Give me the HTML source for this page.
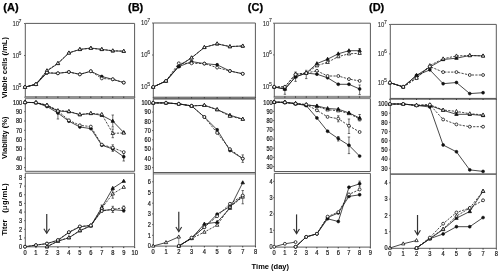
<!DOCTYPE html>
<html><head><meta charset="utf-8"><style>
html,body{margin:0;padding:0;background:#fff;overflow:hidden;}
svg{display:block;will-change:transform;}
text{font-family:"Liberation Sans",sans-serif;}
.t{stroke:#222;stroke-width:0.22px;}
.t2{stroke:#444;stroke-width:0.1px;}
</style></head><body>
<svg width="499" height="271" viewBox="0 0 499 271">
<rect width="499" height="271" fill="#fff"/>
<line x1="25.3" y1="23.4" x2="134.6" y2="23.4" stroke="#5a5a5a" stroke-width="1.0" />
<line x1="25.3" y1="96.6" x2="134.6" y2="96.6" stroke="#5a5a5a" stroke-width="1.0" />
<line x1="25.3" y1="23.4" x2="25.3" y2="96.6" stroke="#5a5a5a" stroke-width="1.0" />
<line x1="134.6" y1="23.4" x2="134.6" y2="96.6" stroke="#5a5a5a" stroke-width="1.0" />
<line x1="24" y1="23.5" x2="25.3" y2="23.5" stroke="#5a5a5a" stroke-width="0.9" />
<text transform="translate(19,25.8) scale(0.87,1)" font-size="6.8" text-anchor="end" font-weight="normal" fill="#222" class="t2">10</text>
<text transform="translate(18.6,22.5) scale(0.87,1)" font-size="6.0" text-anchor="start" font-weight="normal" fill="#222" class="t2">7</text>
<line x1="24" y1="55.5" x2="25.3" y2="55.5" stroke="#5a5a5a" stroke-width="0.9" />
<text transform="translate(19,57.8) scale(0.87,1)" font-size="6.8" text-anchor="end" font-weight="normal" fill="#222" class="t2">10</text>
<text transform="translate(18.6,54.5) scale(0.87,1)" font-size="6.0" text-anchor="start" font-weight="normal" fill="#222" class="t2">6</text>
<line x1="24" y1="87.5" x2="25.3" y2="87.5" stroke="#5a5a5a" stroke-width="0.9" />
<text transform="translate(19,89.8) scale(0.87,1)" font-size="6.8" text-anchor="end" font-weight="normal" fill="#222" class="t2">10</text>
<text transform="translate(18.6,86.5) scale(0.87,1)" font-size="6.0" text-anchor="start" font-weight="normal" fill="#222" class="t2">5</text>
<line x1="25.3" y1="98.6" x2="134.6" y2="98.6" stroke="#5a5a5a" stroke-width="1.0" />
<line x1="25.3" y1="171.3" x2="134.6" y2="171.3" stroke="#5a5a5a" stroke-width="1.0" />
<line x1="25.3" y1="98.6" x2="25.3" y2="171.3" stroke="#5a5a5a" stroke-width="1.0" />
<line x1="134.6" y1="98.6" x2="134.6" y2="171.3" stroke="#5a5a5a" stroke-width="1.0" />
<rect x="25.8" y="96" width="108.3" height="2.9" fill="#929292"/>
<line x1="25" y1="96.6" x2="25" y2="97.9" stroke="#333" stroke-width="1.0" />
<line x1="35.97" y1="96.6" x2="35.97" y2="97.9" stroke="#333" stroke-width="1.0" />
<line x1="46.94" y1="96.6" x2="46.94" y2="97.9" stroke="#333" stroke-width="1.0" />
<line x1="57.91" y1="96.6" x2="57.91" y2="97.9" stroke="#333" stroke-width="1.0" />
<line x1="68.88" y1="96.6" x2="68.88" y2="97.9" stroke="#333" stroke-width="1.0" />
<line x1="79.85" y1="96.6" x2="79.85" y2="97.9" stroke="#333" stroke-width="1.0" />
<line x1="90.82" y1="96.6" x2="90.82" y2="97.9" stroke="#333" stroke-width="1.0" />
<line x1="101.79" y1="96.6" x2="101.79" y2="97.9" stroke="#333" stroke-width="1.0" />
<line x1="112.76" y1="96.6" x2="112.76" y2="97.9" stroke="#333" stroke-width="1.0" />
<line x1="123.73" y1="96.6" x2="123.73" y2="97.9" stroke="#333" stroke-width="1.0" />
<line x1="134.7" y1="96.6" x2="134.7" y2="97.9" stroke="#333" stroke-width="1.0" />
<line x1="24" y1="102.4" x2="25.3" y2="102.4" stroke="#5a5a5a" stroke-width="0.9" />
<text transform="translate(22.2,104.75) scale(0.87,1)" font-size="6.4" text-anchor="end" font-weight="normal" fill="#222" class="t">100</text>
<line x1="24" y1="111.7" x2="25.3" y2="111.7" stroke="#5a5a5a" stroke-width="0.9" />
<text transform="translate(22.2,114.05) scale(0.87,1)" font-size="6.4" text-anchor="end" font-weight="normal" fill="#222" class="t">90</text>
<line x1="24" y1="121" x2="25.3" y2="121" stroke="#5a5a5a" stroke-width="0.9" />
<text transform="translate(22.2,123.35) scale(0.87,1)" font-size="6.4" text-anchor="end" font-weight="normal" fill="#222" class="t">80</text>
<line x1="24" y1="130.3" x2="25.3" y2="130.3" stroke="#5a5a5a" stroke-width="0.9" />
<text transform="translate(22.2,132.65) scale(0.87,1)" font-size="6.4" text-anchor="end" font-weight="normal" fill="#222" class="t">70</text>
<line x1="24" y1="139.6" x2="25.3" y2="139.6" stroke="#5a5a5a" stroke-width="0.9" />
<text transform="translate(22.2,141.95) scale(0.87,1)" font-size="6.4" text-anchor="end" font-weight="normal" fill="#222" class="t">60</text>
<line x1="24" y1="148.9" x2="25.3" y2="148.9" stroke="#5a5a5a" stroke-width="0.9" />
<text transform="translate(22.2,151.25) scale(0.87,1)" font-size="6.4" text-anchor="end" font-weight="normal" fill="#222" class="t">50</text>
<line x1="24" y1="158.2" x2="25.3" y2="158.2" stroke="#5a5a5a" stroke-width="0.9" />
<text transform="translate(22.2,160.55) scale(0.87,1)" font-size="6.4" text-anchor="end" font-weight="normal" fill="#222" class="t">40</text>
<line x1="24" y1="167.5" x2="25.3" y2="167.5" stroke="#5a5a5a" stroke-width="0.9" />
<text transform="translate(22.2,169.85) scale(0.87,1)" font-size="6.4" text-anchor="end" font-weight="normal" fill="#222" class="t">30</text>
<line x1="25.3" y1="173.2" x2="134.6" y2="173.2" stroke="#5a5a5a" stroke-width="1.0" />
<line x1="25.3" y1="246.8" x2="134.6" y2="246.8" stroke="#5a5a5a" stroke-width="1.0" />
<line x1="25.3" y1="173.2" x2="25.3" y2="246.8" stroke="#5a5a5a" stroke-width="1.0" />
<line x1="134.6" y1="173.2" x2="134.6" y2="246.8" stroke="#5a5a5a" stroke-width="1.0" />
<line x1="24" y1="246.6" x2="25.3" y2="246.6" stroke="#5a5a5a" stroke-width="0.9" />
<text transform="translate(22.2,248.95) scale(0.87,1)" font-size="6.4" text-anchor="end" font-weight="normal" fill="#222" class="t">0</text>
<line x1="24" y1="237.96" x2="25.3" y2="237.96" stroke="#5a5a5a" stroke-width="0.9" />
<text transform="translate(22.2,240.31) scale(0.87,1)" font-size="6.4" text-anchor="end" font-weight="normal" fill="#222" class="t">1</text>
<line x1="24" y1="229.32" x2="25.3" y2="229.32" stroke="#5a5a5a" stroke-width="0.9" />
<text transform="translate(22.2,231.67) scale(0.87,1)" font-size="6.4" text-anchor="end" font-weight="normal" fill="#222" class="t">2</text>
<line x1="24" y1="220.68" x2="25.3" y2="220.68" stroke="#5a5a5a" stroke-width="0.9" />
<text transform="translate(22.2,223.03) scale(0.87,1)" font-size="6.4" text-anchor="end" font-weight="normal" fill="#222" class="t">3</text>
<line x1="24" y1="212.04" x2="25.3" y2="212.04" stroke="#5a5a5a" stroke-width="0.9" />
<text transform="translate(22.2,214.39) scale(0.87,1)" font-size="6.4" text-anchor="end" font-weight="normal" fill="#222" class="t">4</text>
<line x1="24" y1="203.4" x2="25.3" y2="203.4" stroke="#5a5a5a" stroke-width="0.9" />
<text transform="translate(22.2,205.75) scale(0.87,1)" font-size="6.4" text-anchor="end" font-weight="normal" fill="#222" class="t">5</text>
<line x1="24" y1="194.76" x2="25.3" y2="194.76" stroke="#5a5a5a" stroke-width="0.9" />
<text transform="translate(22.2,197.11) scale(0.87,1)" font-size="6.4" text-anchor="end" font-weight="normal" fill="#222" class="t">6</text>
<line x1="24" y1="186.12" x2="25.3" y2="186.12" stroke="#5a5a5a" stroke-width="0.9" />
<text transform="translate(22.2,188.47) scale(0.87,1)" font-size="6.4" text-anchor="end" font-weight="normal" fill="#222" class="t">7</text>
<line x1="24" y1="177.48" x2="25.3" y2="177.48" stroke="#5a5a5a" stroke-width="0.9" />
<text transform="translate(22.2,179.83) scale(0.87,1)" font-size="6.4" text-anchor="end" font-weight="normal" fill="#222" class="t">8</text>
<line x1="25" y1="246.8" x2="25" y2="248.1" stroke="#333" stroke-width="1.0" />
<text transform="translate(25,254.8) scale(0.87,1)" font-size="6.6" text-anchor="middle" font-weight="normal" fill="#222" class="t">0</text>
<line x1="35.97" y1="246.8" x2="35.97" y2="248.1" stroke="#333" stroke-width="1.0" />
<text transform="translate(35.97,254.8) scale(0.87,1)" font-size="6.6" text-anchor="middle" font-weight="normal" fill="#222" class="t">1</text>
<line x1="46.94" y1="246.8" x2="46.94" y2="248.1" stroke="#333" stroke-width="1.0" />
<text transform="translate(46.94,254.8) scale(0.87,1)" font-size="6.6" text-anchor="middle" font-weight="normal" fill="#222" class="t">2</text>
<line x1="57.91" y1="246.8" x2="57.91" y2="248.1" stroke="#333" stroke-width="1.0" />
<text transform="translate(57.91,254.8) scale(0.87,1)" font-size="6.6" text-anchor="middle" font-weight="normal" fill="#222" class="t">3</text>
<line x1="68.88" y1="246.8" x2="68.88" y2="248.1" stroke="#333" stroke-width="1.0" />
<text transform="translate(68.88,254.8) scale(0.87,1)" font-size="6.6" text-anchor="middle" font-weight="normal" fill="#222" class="t">4</text>
<line x1="79.85" y1="246.8" x2="79.85" y2="248.1" stroke="#333" stroke-width="1.0" />
<text transform="translate(79.85,254.8) scale(0.87,1)" font-size="6.6" text-anchor="middle" font-weight="normal" fill="#222" class="t">5</text>
<line x1="90.82" y1="246.8" x2="90.82" y2="248.1" stroke="#333" stroke-width="1.0" />
<text transform="translate(90.82,254.8) scale(0.87,1)" font-size="6.6" text-anchor="middle" font-weight="normal" fill="#222" class="t">6</text>
<line x1="101.79" y1="246.8" x2="101.79" y2="248.1" stroke="#333" stroke-width="1.0" />
<text transform="translate(101.79,254.8) scale(0.87,1)" font-size="6.6" text-anchor="middle" font-weight="normal" fill="#222" class="t">7</text>
<line x1="112.76" y1="246.8" x2="112.76" y2="248.1" stroke="#333" stroke-width="1.0" />
<text transform="translate(112.76,254.8) scale(0.87,1)" font-size="6.6" text-anchor="middle" font-weight="normal" fill="#222" class="t">8</text>
<line x1="123.73" y1="246.8" x2="123.73" y2="248.1" stroke="#333" stroke-width="1.0" />
<text transform="translate(123.73,254.8) scale(0.87,1)" font-size="6.6" text-anchor="middle" font-weight="normal" fill="#222" class="t">9</text>
<line x1="134.7" y1="246.8" x2="134.7" y2="248.1" stroke="#333" stroke-width="1.0" />
<text transform="translate(134.7,254.8) scale(0.87,1)" font-size="6.6" text-anchor="middle" font-weight="normal" fill="#222" class="t">10</text>
<line x1="153.3" y1="23" x2="255.4" y2="23" stroke="#5a5a5a" stroke-width="1.0" />
<line x1="153.3" y1="97.2" x2="255.4" y2="97.2" stroke="#5a5a5a" stroke-width="1.0" />
<line x1="153.3" y1="23" x2="153.3" y2="97.2" stroke="#5a5a5a" stroke-width="1.0" />
<line x1="255.4" y1="23" x2="255.4" y2="97.2" stroke="#5a5a5a" stroke-width="1.0" />
<line x1="152" y1="23" x2="153.3" y2="23" stroke="#5a5a5a" stroke-width="0.9" />
<text transform="translate(147.6,25.3) scale(0.87,1)" font-size="6.8" text-anchor="end" font-weight="normal" fill="#222" class="t2">10</text>
<text transform="translate(147.2,22) scale(0.87,1)" font-size="6.0" text-anchor="start" font-weight="normal" fill="#222" class="t2">7</text>
<line x1="152" y1="55" x2="153.3" y2="55" stroke="#5a5a5a" stroke-width="0.9" />
<text transform="translate(147.6,57.3) scale(0.87,1)" font-size="6.8" text-anchor="end" font-weight="normal" fill="#222" class="t2">10</text>
<text transform="translate(147.2,54) scale(0.87,1)" font-size="6.0" text-anchor="start" font-weight="normal" fill="#222" class="t2">6</text>
<line x1="152" y1="86.9" x2="153.3" y2="86.9" stroke="#5a5a5a" stroke-width="0.9" />
<text transform="translate(147.6,89.2) scale(0.87,1)" font-size="6.8" text-anchor="end" font-weight="normal" fill="#222" class="t2">10</text>
<text transform="translate(147.2,85.9) scale(0.87,1)" font-size="6.0" text-anchor="start" font-weight="normal" fill="#222" class="t2">5</text>
<rect x="153.3" y="97" width="102.1" height="2.1" fill="#7a7a7a"/>
<line x1="153.2" y1="97.2" x2="153.2" y2="98.5" stroke="#333" stroke-width="1.0" />
<line x1="165.99" y1="97.2" x2="165.99" y2="98.5" stroke="#333" stroke-width="1.0" />
<line x1="178.78" y1="97.2" x2="178.78" y2="98.5" stroke="#333" stroke-width="1.0" />
<line x1="191.57" y1="97.2" x2="191.57" y2="98.5" stroke="#333" stroke-width="1.0" />
<line x1="204.36" y1="97.2" x2="204.36" y2="98.5" stroke="#333" stroke-width="1.0" />
<line x1="217.15" y1="97.2" x2="217.15" y2="98.5" stroke="#333" stroke-width="1.0" />
<line x1="229.94" y1="97.2" x2="229.94" y2="98.5" stroke="#333" stroke-width="1.0" />
<line x1="242.73" y1="97.2" x2="242.73" y2="98.5" stroke="#333" stroke-width="1.0" />
<line x1="255.52" y1="97.2" x2="255.52" y2="98.5" stroke="#333" stroke-width="1.0" />
<line x1="153.3" y1="99" x2="255.4" y2="99" stroke="#5a5a5a" stroke-width="1.0" />
<line x1="153.3" y1="172.5" x2="255.4" y2="172.5" stroke="#5a5a5a" stroke-width="1.0" />
<line x1="153.3" y1="99" x2="153.3" y2="172.5" stroke="#5a5a5a" stroke-width="1.0" />
<line x1="255.4" y1="99" x2="255.4" y2="172.5" stroke="#5a5a5a" stroke-width="1.0" />
<line x1="152" y1="102.8" x2="153.3" y2="102.8" stroke="#5a5a5a" stroke-width="0.9" />
<text transform="translate(150.8,105.15) scale(0.87,1)" font-size="6.4" text-anchor="end" font-weight="normal" fill="#222" class="t">100</text>
<line x1="152" y1="112.05" x2="153.3" y2="112.05" stroke="#5a5a5a" stroke-width="0.9" />
<text transform="translate(150.8,114.4) scale(0.87,1)" font-size="6.4" text-anchor="end" font-weight="normal" fill="#222" class="t">90</text>
<line x1="152" y1="121.3" x2="153.3" y2="121.3" stroke="#5a5a5a" stroke-width="0.9" />
<text transform="translate(150.8,123.65) scale(0.87,1)" font-size="6.4" text-anchor="end" font-weight="normal" fill="#222" class="t">80</text>
<line x1="152" y1="130.55" x2="153.3" y2="130.55" stroke="#5a5a5a" stroke-width="0.9" />
<text transform="translate(150.8,132.9) scale(0.87,1)" font-size="6.4" text-anchor="end" font-weight="normal" fill="#222" class="t">70</text>
<line x1="152" y1="139.8" x2="153.3" y2="139.8" stroke="#5a5a5a" stroke-width="0.9" />
<text transform="translate(150.8,142.15) scale(0.87,1)" font-size="6.4" text-anchor="end" font-weight="normal" fill="#222" class="t">60</text>
<line x1="152" y1="149.05" x2="153.3" y2="149.05" stroke="#5a5a5a" stroke-width="0.9" />
<text transform="translate(150.8,151.4) scale(0.87,1)" font-size="6.4" text-anchor="end" font-weight="normal" fill="#222" class="t">50</text>
<line x1="152" y1="158.3" x2="153.3" y2="158.3" stroke="#5a5a5a" stroke-width="0.9" />
<text transform="translate(150.8,160.65) scale(0.87,1)" font-size="6.4" text-anchor="end" font-weight="normal" fill="#222" class="t">40</text>
<line x1="152" y1="167.55" x2="153.3" y2="167.55" stroke="#5a5a5a" stroke-width="0.9" />
<text transform="translate(150.8,169.9) scale(0.87,1)" font-size="6.4" text-anchor="end" font-weight="normal" fill="#222" class="t">30</text>
<rect x="153.3" y="173" width="102.1" height="1.7" fill="#b0b0b0"/>
<line x1="153.3" y1="172.5" x2="255.4" y2="172.5" stroke="#5a5a5a" stroke-width="1.0" />
<line x1="153.3" y1="246.1" x2="255.4" y2="246.1" stroke="#5a5a5a" stroke-width="1.0" />
<line x1="153.3" y1="172.5" x2="153.3" y2="246.1" stroke="#5a5a5a" stroke-width="1.0" />
<line x1="255.4" y1="172.5" x2="255.4" y2="246.1" stroke="#5a5a5a" stroke-width="1.0" />
<line x1="152" y1="246" x2="153.3" y2="246" stroke="#5a5a5a" stroke-width="0.9" />
<text transform="translate(150.8,248.35) scale(0.87,1)" font-size="6.4" text-anchor="end" font-weight="normal" fill="#222" class="t">0</text>
<line x1="152" y1="235.3" x2="153.3" y2="235.3" stroke="#5a5a5a" stroke-width="0.9" />
<text transform="translate(150.8,237.65) scale(0.87,1)" font-size="6.4" text-anchor="end" font-weight="normal" fill="#222" class="t">1</text>
<line x1="152" y1="224.6" x2="153.3" y2="224.6" stroke="#5a5a5a" stroke-width="0.9" />
<text transform="translate(150.8,226.95) scale(0.87,1)" font-size="6.4" text-anchor="end" font-weight="normal" fill="#222" class="t">2</text>
<line x1="152" y1="213.9" x2="153.3" y2="213.9" stroke="#5a5a5a" stroke-width="0.9" />
<text transform="translate(150.8,216.25) scale(0.87,1)" font-size="6.4" text-anchor="end" font-weight="normal" fill="#222" class="t">3</text>
<line x1="152" y1="203.2" x2="153.3" y2="203.2" stroke="#5a5a5a" stroke-width="0.9" />
<text transform="translate(150.8,205.55) scale(0.87,1)" font-size="6.4" text-anchor="end" font-weight="normal" fill="#222" class="t">4</text>
<line x1="152" y1="192.5" x2="153.3" y2="192.5" stroke="#5a5a5a" stroke-width="0.9" />
<text transform="translate(150.8,194.85) scale(0.87,1)" font-size="6.4" text-anchor="end" font-weight="normal" fill="#222" class="t">5</text>
<line x1="152" y1="181.8" x2="153.3" y2="181.8" stroke="#5a5a5a" stroke-width="0.9" />
<text transform="translate(150.8,184.15) scale(0.87,1)" font-size="6.4" text-anchor="end" font-weight="normal" fill="#222" class="t">6</text>
<line x1="153.2" y1="246.1" x2="153.2" y2="247.4" stroke="#333" stroke-width="1.0" />
<text transform="translate(153.2,254.3) scale(0.87,1)" font-size="6.6" text-anchor="middle" font-weight="normal" fill="#222" class="t">0</text>
<line x1="165.99" y1="246.1" x2="165.99" y2="247.4" stroke="#333" stroke-width="1.0" />
<text transform="translate(165.99,254.3) scale(0.87,1)" font-size="6.6" text-anchor="middle" font-weight="normal" fill="#222" class="t">1</text>
<line x1="178.78" y1="246.1" x2="178.78" y2="247.4" stroke="#333" stroke-width="1.0" />
<text transform="translate(178.78,254.3) scale(0.87,1)" font-size="6.6" text-anchor="middle" font-weight="normal" fill="#222" class="t">2</text>
<line x1="191.57" y1="246.1" x2="191.57" y2="247.4" stroke="#333" stroke-width="1.0" />
<text transform="translate(191.57,254.3) scale(0.87,1)" font-size="6.6" text-anchor="middle" font-weight="normal" fill="#222" class="t">3</text>
<line x1="204.36" y1="246.1" x2="204.36" y2="247.4" stroke="#333" stroke-width="1.0" />
<text transform="translate(204.36,254.3) scale(0.87,1)" font-size="6.6" text-anchor="middle" font-weight="normal" fill="#222" class="t">4</text>
<line x1="217.15" y1="246.1" x2="217.15" y2="247.4" stroke="#333" stroke-width="1.0" />
<text transform="translate(217.15,254.3) scale(0.87,1)" font-size="6.6" text-anchor="middle" font-weight="normal" fill="#222" class="t">5</text>
<line x1="229.94" y1="246.1" x2="229.94" y2="247.4" stroke="#333" stroke-width="1.0" />
<text transform="translate(229.94,254.3) scale(0.87,1)" font-size="6.6" text-anchor="middle" font-weight="normal" fill="#222" class="t">6</text>
<line x1="242.73" y1="246.1" x2="242.73" y2="247.4" stroke="#333" stroke-width="1.0" />
<text transform="translate(242.73,254.3) scale(0.87,1)" font-size="6.6" text-anchor="middle" font-weight="normal" fill="#222" class="t">7</text>
<line x1="255.52" y1="246.1" x2="255.52" y2="247.4" stroke="#333" stroke-width="1.0" />
<text transform="translate(255.52,254.3) scale(0.87,1)" font-size="6.6" text-anchor="middle" font-weight="normal" fill="#222" class="t">8</text>
<line x1="274.3" y1="23.2" x2="370.4" y2="23.2" stroke="#5a5a5a" stroke-width="1.0" />
<line x1="274.3" y1="96.4" x2="370.4" y2="96.4" stroke="#5a5a5a" stroke-width="1.0" />
<line x1="274.3" y1="23.2" x2="274.3" y2="96.4" stroke="#5a5a5a" stroke-width="1.0" />
<line x1="370.4" y1="23.2" x2="370.4" y2="96.4" stroke="#5a5a5a" stroke-width="1.0" />
<line x1="273" y1="23.2" x2="274.3" y2="23.2" stroke="#5a5a5a" stroke-width="0.9" />
<text transform="translate(269.4,25.5) scale(0.87,1)" font-size="6.8" text-anchor="end" font-weight="normal" fill="#222" class="t2">10</text>
<text transform="translate(269,22.2) scale(0.87,1)" font-size="6.0" text-anchor="start" font-weight="normal" fill="#222" class="t2">7</text>
<line x1="273" y1="54.9" x2="274.3" y2="54.9" stroke="#5a5a5a" stroke-width="0.9" />
<text transform="translate(269.4,57.2) scale(0.87,1)" font-size="6.8" text-anchor="end" font-weight="normal" fill="#222" class="t2">10</text>
<text transform="translate(269,53.9) scale(0.87,1)" font-size="6.0" text-anchor="start" font-weight="normal" fill="#222" class="t2">6</text>
<line x1="273" y1="86.6" x2="274.3" y2="86.6" stroke="#5a5a5a" stroke-width="0.9" />
<text transform="translate(269.4,88.9) scale(0.87,1)" font-size="6.8" text-anchor="end" font-weight="normal" fill="#222" class="t2">10</text>
<text transform="translate(269,85.6) scale(0.87,1)" font-size="6.0" text-anchor="start" font-weight="normal" fill="#222" class="t2">5</text>
<line x1="274.3" y1="98.6" x2="370.4" y2="98.6" stroke="#5a5a5a" stroke-width="1.0" />
<line x1="274.3" y1="171.5" x2="370.4" y2="171.5" stroke="#5a5a5a" stroke-width="1.0" />
<line x1="274.3" y1="98.6" x2="274.3" y2="171.5" stroke="#5a5a5a" stroke-width="1.0" />
<line x1="370.4" y1="98.6" x2="370.4" y2="171.5" stroke="#5a5a5a" stroke-width="1.0" />
<rect x="274.8" y="96" width="95.1" height="2.9" fill="#929292"/>
<line x1="274.2" y1="96.4" x2="274.2" y2="97.7" stroke="#333" stroke-width="1.0" />
<line x1="284.88" y1="96.4" x2="284.88" y2="97.7" stroke="#333" stroke-width="1.0" />
<line x1="295.56" y1="96.4" x2="295.56" y2="97.7" stroke="#333" stroke-width="1.0" />
<line x1="306.24" y1="96.4" x2="306.24" y2="97.7" stroke="#333" stroke-width="1.0" />
<line x1="316.92" y1="96.4" x2="316.92" y2="97.7" stroke="#333" stroke-width="1.0" />
<line x1="327.6" y1="96.4" x2="327.6" y2="97.7" stroke="#333" stroke-width="1.0" />
<line x1="338.28" y1="96.4" x2="338.28" y2="97.7" stroke="#333" stroke-width="1.0" />
<line x1="348.96" y1="96.4" x2="348.96" y2="97.7" stroke="#333" stroke-width="1.0" />
<line x1="359.64" y1="96.4" x2="359.64" y2="97.7" stroke="#333" stroke-width="1.0" />
<line x1="370.32" y1="96.4" x2="370.32" y2="97.7" stroke="#333" stroke-width="1.0" />
<line x1="273" y1="102.2" x2="274.3" y2="102.2" stroke="#5a5a5a" stroke-width="0.9" />
<text transform="translate(272.6,104.55) scale(0.87,1)" font-size="6.4" text-anchor="end" font-weight="normal" fill="#222" class="t">100</text>
<line x1="273" y1="111.4" x2="274.3" y2="111.4" stroke="#5a5a5a" stroke-width="0.9" />
<text transform="translate(272.6,113.75) scale(0.87,1)" font-size="6.4" text-anchor="end" font-weight="normal" fill="#222" class="t">90</text>
<line x1="273" y1="120.6" x2="274.3" y2="120.6" stroke="#5a5a5a" stroke-width="0.9" />
<text transform="translate(272.6,122.95) scale(0.87,1)" font-size="6.4" text-anchor="end" font-weight="normal" fill="#222" class="t">80</text>
<line x1="273" y1="129.8" x2="274.3" y2="129.8" stroke="#5a5a5a" stroke-width="0.9" />
<text transform="translate(272.6,132.15) scale(0.87,1)" font-size="6.4" text-anchor="end" font-weight="normal" fill="#222" class="t">70</text>
<line x1="273" y1="139" x2="274.3" y2="139" stroke="#5a5a5a" stroke-width="0.9" />
<text transform="translate(272.6,141.35) scale(0.87,1)" font-size="6.4" text-anchor="end" font-weight="normal" fill="#222" class="t">60</text>
<line x1="273" y1="148.2" x2="274.3" y2="148.2" stroke="#5a5a5a" stroke-width="0.9" />
<text transform="translate(272.6,150.55) scale(0.87,1)" font-size="6.4" text-anchor="end" font-weight="normal" fill="#222" class="t">50</text>
<line x1="273" y1="157.4" x2="274.3" y2="157.4" stroke="#5a5a5a" stroke-width="0.9" />
<text transform="translate(272.6,159.75) scale(0.87,1)" font-size="6.4" text-anchor="end" font-weight="normal" fill="#222" class="t">40</text>
<line x1="273" y1="166.6" x2="274.3" y2="166.6" stroke="#5a5a5a" stroke-width="0.9" />
<text transform="translate(272.6,168.95) scale(0.87,1)" font-size="6.4" text-anchor="end" font-weight="normal" fill="#222" class="t">30</text>
<line x1="274.3" y1="173.4" x2="370.4" y2="173.4" stroke="#5a5a5a" stroke-width="1.0" />
<line x1="274.3" y1="247.1" x2="370.4" y2="247.1" stroke="#5a5a5a" stroke-width="1.0" />
<line x1="274.3" y1="173.4" x2="274.3" y2="247.1" stroke="#5a5a5a" stroke-width="1.0" />
<line x1="370.4" y1="173.4" x2="370.4" y2="247.1" stroke="#5a5a5a" stroke-width="1.0" />
<line x1="273" y1="246.6" x2="274.3" y2="246.6" stroke="#5a5a5a" stroke-width="0.9" />
<text transform="translate(272.6,248.95) scale(0.87,1)" font-size="6.4" text-anchor="end" font-weight="normal" fill="#222" class="t">0</text>
<line x1="273" y1="230.3" x2="274.3" y2="230.3" stroke="#5a5a5a" stroke-width="0.9" />
<text transform="translate(272.6,232.65) scale(0.87,1)" font-size="6.4" text-anchor="end" font-weight="normal" fill="#222" class="t">1</text>
<line x1="273" y1="214" x2="274.3" y2="214" stroke="#5a5a5a" stroke-width="0.9" />
<text transform="translate(272.6,216.35) scale(0.87,1)" font-size="6.4" text-anchor="end" font-weight="normal" fill="#222" class="t">2</text>
<line x1="273" y1="197.7" x2="274.3" y2="197.7" stroke="#5a5a5a" stroke-width="0.9" />
<text transform="translate(272.6,200.05) scale(0.87,1)" font-size="6.4" text-anchor="end" font-weight="normal" fill="#222" class="t">3</text>
<line x1="273" y1="181.4" x2="274.3" y2="181.4" stroke="#5a5a5a" stroke-width="0.9" />
<text transform="translate(272.6,183.75) scale(0.87,1)" font-size="6.4" text-anchor="end" font-weight="normal" fill="#222" class="t">4</text>
<line x1="274.2" y1="247.1" x2="274.2" y2="248.4" stroke="#333" stroke-width="1.0" />
<text transform="translate(274.2,255) scale(0.87,1)" font-size="6.6" text-anchor="middle" font-weight="normal" fill="#222" class="t">0</text>
<line x1="284.88" y1="247.1" x2="284.88" y2="248.4" stroke="#333" stroke-width="1.0" />
<text transform="translate(284.88,255) scale(0.87,1)" font-size="6.6" text-anchor="middle" font-weight="normal" fill="#222" class="t">1</text>
<line x1="295.56" y1="247.1" x2="295.56" y2="248.4" stroke="#333" stroke-width="1.0" />
<text transform="translate(295.56,255) scale(0.87,1)" font-size="6.6" text-anchor="middle" font-weight="normal" fill="#222" class="t">2</text>
<line x1="306.24" y1="247.1" x2="306.24" y2="248.4" stroke="#333" stroke-width="1.0" />
<text transform="translate(306.24,255) scale(0.87,1)" font-size="6.6" text-anchor="middle" font-weight="normal" fill="#222" class="t">3</text>
<line x1="316.92" y1="247.1" x2="316.92" y2="248.4" stroke="#333" stroke-width="1.0" />
<text transform="translate(316.92,255) scale(0.87,1)" font-size="6.6" text-anchor="middle" font-weight="normal" fill="#222" class="t">4</text>
<line x1="327.6" y1="247.1" x2="327.6" y2="248.4" stroke="#333" stroke-width="1.0" />
<text transform="translate(327.6,255) scale(0.87,1)" font-size="6.6" text-anchor="middle" font-weight="normal" fill="#222" class="t">5</text>
<line x1="338.28" y1="247.1" x2="338.28" y2="248.4" stroke="#333" stroke-width="1.0" />
<text transform="translate(338.28,255) scale(0.87,1)" font-size="6.6" text-anchor="middle" font-weight="normal" fill="#222" class="t">6</text>
<line x1="348.96" y1="247.1" x2="348.96" y2="248.4" stroke="#333" stroke-width="1.0" />
<text transform="translate(348.96,255) scale(0.87,1)" font-size="6.6" text-anchor="middle" font-weight="normal" fill="#222" class="t">7</text>
<line x1="359.64" y1="247.1" x2="359.64" y2="248.4" stroke="#333" stroke-width="1.0" />
<text transform="translate(359.64,255) scale(0.87,1)" font-size="6.6" text-anchor="middle" font-weight="normal" fill="#222" class="t">8</text>
<line x1="370.32" y1="247.1" x2="370.32" y2="248.4" stroke="#333" stroke-width="1.0" />
<text transform="translate(370.32,255) scale(0.87,1)" font-size="6.6" text-anchor="middle" font-weight="normal" fill="#222" class="t">9</text>
<line x1="390.3" y1="24.4" x2="496.3" y2="24.4" stroke="#5a5a5a" stroke-width="1.0" />
<line x1="390.3" y1="98.7" x2="496.3" y2="98.7" stroke="#5a5a5a" stroke-width="1.0" />
<line x1="390.3" y1="24.4" x2="390.3" y2="98.7" stroke="#5a5a5a" stroke-width="1.0" />
<line x1="496.3" y1="24.4" x2="496.3" y2="98.7" stroke="#5a5a5a" stroke-width="1.0" />
<line x1="389" y1="24.5" x2="390.3" y2="24.5" stroke="#5a5a5a" stroke-width="0.9" />
<text transform="translate(384.3,26.8) scale(0.87,1)" font-size="6.8" text-anchor="end" font-weight="normal" fill="#222" class="t2">10</text>
<text transform="translate(383.9,23.5) scale(0.87,1)" font-size="6.0" text-anchor="start" font-weight="normal" fill="#222" class="t2">7</text>
<line x1="389" y1="53.9" x2="390.3" y2="53.9" stroke="#5a5a5a" stroke-width="0.9" />
<text transform="translate(384.3,56.2) scale(0.87,1)" font-size="6.8" text-anchor="end" font-weight="normal" fill="#222" class="t2">10</text>
<text transform="translate(383.9,52.9) scale(0.87,1)" font-size="6.0" text-anchor="start" font-weight="normal" fill="#222" class="t2">6</text>
<line x1="389" y1="83" x2="390.3" y2="83" stroke="#5a5a5a" stroke-width="0.9" />
<text transform="translate(384.3,85.3) scale(0.87,1)" font-size="6.8" text-anchor="end" font-weight="normal" fill="#222" class="t2">10</text>
<text transform="translate(383.9,82) scale(0.87,1)" font-size="6.0" text-anchor="start" font-weight="normal" fill="#222" class="t2">5</text>
<rect x="390.3" y="97.9" width="106" height="1.7" fill="#6a6a6a"/>
<line x1="389.9" y1="98.7" x2="389.9" y2="100" stroke="#333" stroke-width="1.0" />
<line x1="403.21" y1="98.7" x2="403.21" y2="100" stroke="#333" stroke-width="1.0" />
<line x1="416.52" y1="98.7" x2="416.52" y2="100" stroke="#333" stroke-width="1.0" />
<line x1="429.83" y1="98.7" x2="429.83" y2="100" stroke="#333" stroke-width="1.0" />
<line x1="443.14" y1="98.7" x2="443.14" y2="100" stroke="#333" stroke-width="1.0" />
<line x1="456.45" y1="98.7" x2="456.45" y2="100" stroke="#333" stroke-width="1.0" />
<line x1="469.76" y1="98.7" x2="469.76" y2="100" stroke="#333" stroke-width="1.0" />
<line x1="483.07" y1="98.7" x2="483.07" y2="100" stroke="#333" stroke-width="1.0" />
<line x1="496.38" y1="98.7" x2="496.38" y2="100" stroke="#333" stroke-width="1.0" />
<line x1="390.3" y1="98.7" x2="496.3" y2="98.7" stroke="#5a5a5a" stroke-width="1.0" />
<line x1="390.3" y1="174.1" x2="496.3" y2="174.1" stroke="#5a5a5a" stroke-width="1.0" />
<line x1="390.3" y1="98.7" x2="390.3" y2="174.1" stroke="#5a5a5a" stroke-width="1.0" />
<line x1="496.3" y1="98.7" x2="496.3" y2="174.1" stroke="#5a5a5a" stroke-width="1.0" />
<line x1="389" y1="104" x2="390.3" y2="104" stroke="#5a5a5a" stroke-width="0.9" />
<text transform="translate(387.5,106.35) scale(0.87,1)" font-size="6.4" text-anchor="end" font-weight="normal" fill="#222" class="t">100</text>
<line x1="389" y1="113.18" x2="390.3" y2="113.18" stroke="#5a5a5a" stroke-width="0.9" />
<text transform="translate(387.5,115.53) scale(0.87,1)" font-size="6.4" text-anchor="end" font-weight="normal" fill="#222" class="t">90</text>
<line x1="389" y1="122.36" x2="390.3" y2="122.36" stroke="#5a5a5a" stroke-width="0.9" />
<text transform="translate(387.5,124.71) scale(0.87,1)" font-size="6.4" text-anchor="end" font-weight="normal" fill="#222" class="t">80</text>
<line x1="389" y1="131.54" x2="390.3" y2="131.54" stroke="#5a5a5a" stroke-width="0.9" />
<text transform="translate(387.5,133.89) scale(0.87,1)" font-size="6.4" text-anchor="end" font-weight="normal" fill="#222" class="t">70</text>
<line x1="389" y1="140.72" x2="390.3" y2="140.72" stroke="#5a5a5a" stroke-width="0.9" />
<text transform="translate(387.5,143.07) scale(0.87,1)" font-size="6.4" text-anchor="end" font-weight="normal" fill="#222" class="t">60</text>
<line x1="389" y1="149.9" x2="390.3" y2="149.9" stroke="#5a5a5a" stroke-width="0.9" />
<text transform="translate(387.5,152.25) scale(0.87,1)" font-size="6.4" text-anchor="end" font-weight="normal" fill="#222" class="t">50</text>
<line x1="389" y1="159.08" x2="390.3" y2="159.08" stroke="#5a5a5a" stroke-width="0.9" />
<text transform="translate(387.5,161.43) scale(0.87,1)" font-size="6.4" text-anchor="end" font-weight="normal" fill="#222" class="t">40</text>
<line x1="389" y1="168.26" x2="390.3" y2="168.26" stroke="#5a5a5a" stroke-width="0.9" />
<text transform="translate(387.5,170.61) scale(0.87,1)" font-size="6.4" text-anchor="end" font-weight="normal" fill="#222" class="t">30</text>
<line x1="390.3" y1="174.1" x2="496.3" y2="174.1" stroke="#5a5a5a" stroke-width="1.0" />
<line x1="390.3" y1="248.3" x2="496.3" y2="248.3" stroke="#5a5a5a" stroke-width="1.0" />
<line x1="390.3" y1="174.1" x2="390.3" y2="248.3" stroke="#5a5a5a" stroke-width="1.0" />
<line x1="496.3" y1="174.1" x2="496.3" y2="248.3" stroke="#5a5a5a" stroke-width="1.0" />
<line x1="389" y1="248" x2="390.3" y2="248" stroke="#5a5a5a" stroke-width="0.9" />
<text transform="translate(387.5,250.35) scale(0.87,1)" font-size="6.4" text-anchor="end" font-weight="normal" fill="#222" class="t">0</text>
<line x1="389" y1="231.7" x2="390.3" y2="231.7" stroke="#5a5a5a" stroke-width="0.9" />
<text transform="translate(387.5,234.05) scale(0.87,1)" font-size="6.4" text-anchor="end" font-weight="normal" fill="#222" class="t">1</text>
<line x1="389" y1="215.4" x2="390.3" y2="215.4" stroke="#5a5a5a" stroke-width="0.9" />
<text transform="translate(387.5,217.75) scale(0.87,1)" font-size="6.4" text-anchor="end" font-weight="normal" fill="#222" class="t">2</text>
<line x1="389" y1="199.1" x2="390.3" y2="199.1" stroke="#5a5a5a" stroke-width="0.9" />
<text transform="translate(387.5,201.45) scale(0.87,1)" font-size="6.4" text-anchor="end" font-weight="normal" fill="#222" class="t">3</text>
<line x1="389" y1="182.8" x2="390.3" y2="182.8" stroke="#5a5a5a" stroke-width="0.9" />
<text transform="translate(387.5,185.15) scale(0.87,1)" font-size="6.4" text-anchor="end" font-weight="normal" fill="#222" class="t">4</text>
<line x1="389.9" y1="248.3" x2="389.9" y2="249.6" stroke="#333" stroke-width="1.0" />
<text transform="translate(389.9,256.4) scale(0.87,1)" font-size="6.6" text-anchor="middle" font-weight="normal" fill="#222" class="t">0</text>
<line x1="403.21" y1="248.3" x2="403.21" y2="249.6" stroke="#333" stroke-width="1.0" />
<text transform="translate(403.21,256.4) scale(0.87,1)" font-size="6.6" text-anchor="middle" font-weight="normal" fill="#222" class="t">1</text>
<line x1="416.52" y1="248.3" x2="416.52" y2="249.6" stroke="#333" stroke-width="1.0" />
<text transform="translate(416.52,256.4) scale(0.87,1)" font-size="6.6" text-anchor="middle" font-weight="normal" fill="#222" class="t">2</text>
<line x1="429.83" y1="248.3" x2="429.83" y2="249.6" stroke="#333" stroke-width="1.0" />
<text transform="translate(429.83,256.4) scale(0.87,1)" font-size="6.6" text-anchor="middle" font-weight="normal" fill="#222" class="t">3</text>
<line x1="443.14" y1="248.3" x2="443.14" y2="249.6" stroke="#333" stroke-width="1.0" />
<text transform="translate(443.14,256.4) scale(0.87,1)" font-size="6.6" text-anchor="middle" font-weight="normal" fill="#222" class="t">4</text>
<line x1="456.45" y1="248.3" x2="456.45" y2="249.6" stroke="#333" stroke-width="1.0" />
<text transform="translate(456.45,256.4) scale(0.87,1)" font-size="6.6" text-anchor="middle" font-weight="normal" fill="#222" class="t">5</text>
<line x1="469.76" y1="248.3" x2="469.76" y2="249.6" stroke="#333" stroke-width="1.0" />
<text transform="translate(469.76,256.4) scale(0.87,1)" font-size="6.6" text-anchor="middle" font-weight="normal" fill="#222" class="t">6</text>
<line x1="483.07" y1="248.3" x2="483.07" y2="249.6" stroke="#333" stroke-width="1.0" />
<text transform="translate(483.07,256.4) scale(0.87,1)" font-size="6.6" text-anchor="middle" font-weight="normal" fill="#222" class="t">7</text>
<line x1="496.38" y1="248.3" x2="496.38" y2="249.6" stroke="#333" stroke-width="1.0" />
<text transform="translate(496.38,256.4) scale(0.87,1)" font-size="6.6" text-anchor="middle" font-weight="normal" fill="#222" class="t">8</text>
<polyline points="25,87.1 35.97,84.3 46.94,72.6 57.91,73.3 68.88,72 79.85,74.4 90.82,71.2 101.79,78.4 112.76,79.3 123.73,82.6" fill="none" stroke="#1a1a1a" stroke-width="0.8" stroke-dasharray="2.2,1.3"/>
<polyline points="25,87.1 35.97,84.3 46.94,73 57.91,73.3 68.88,72 79.85,74.3 90.82,71.3 101.79,76.5 112.76,79.3 123.73,82.6" fill="none" stroke="#1a1a1a" stroke-width="0.8"/>
<polyline points="25,87.1 35.97,84.3 46.94,70.6 57.91,63.3 68.88,52.9 79.85,49.4 90.82,48.3 101.79,49.4 112.76,50.7 123.73,51.2" fill="none" stroke="#1a1a1a" stroke-width="0.8" stroke-dasharray="2.2,1.3"/>
<polyline points="25,87.1 35.97,84.3 46.94,71 57.91,63.5 68.88,52.9 79.85,49.4 90.82,48 101.79,49.4 112.76,50.9 123.73,51.2" fill="none" stroke="#1a1a1a" stroke-width="0.8"/>
<polygon points="25,85.15 26.7,88.25 23.3,88.25" fill="#111" stroke="#111" stroke-width="0.8" stroke-linejoin="round"/>
<polygon points="35.97,82.35 37.67,85.45 34.27,85.45" fill="#111" stroke="#111" stroke-width="0.8" stroke-linejoin="round"/>
<polygon points="46.94,69.05 48.64,72.15 45.24,72.15" fill="#111" stroke="#111" stroke-width="0.8" stroke-linejoin="round"/>
<polygon points="57.91,61.55 59.61,64.65 56.21,64.65" fill="#111" stroke="#111" stroke-width="0.8" stroke-linejoin="round"/>
<polygon points="68.88,50.95 70.58,54.05 67.18,54.05" fill="#111" stroke="#111" stroke-width="0.8" stroke-linejoin="round"/>
<polygon points="79.85,47.45 81.55,50.55 78.15,50.55" fill="#111" stroke="#111" stroke-width="0.8" stroke-linejoin="round"/>
<polygon points="90.82,46.05 92.52,49.15 89.12,49.15" fill="#111" stroke="#111" stroke-width="0.8" stroke-linejoin="round"/>
<polygon points="101.79,47.45 103.49,50.55 100.09,50.55" fill="#111" stroke="#111" stroke-width="0.8" stroke-linejoin="round"/>
<polygon points="112.76,48.95 114.46,52.05 111.06,52.05" fill="#111" stroke="#111" stroke-width="0.8" stroke-linejoin="round"/>
<polygon points="123.73,49.25 125.43,52.35 122.03,52.35" fill="#111" stroke="#111" stroke-width="0.8" stroke-linejoin="round"/>
<circle cx="25" cy="87.1" r="1.45" fill="#111" stroke="#111" stroke-width="0.6"/>
<circle cx="35.97" cy="84.3" r="1.45" fill="#111" stroke="#111" stroke-width="0.6"/>
<circle cx="46.94" cy="73" r="1.45" fill="#111" stroke="#111" stroke-width="0.6"/>
<circle cx="57.91" cy="73.3" r="1.45" fill="#111" stroke="#111" stroke-width="0.6"/>
<circle cx="68.88" cy="72" r="1.45" fill="#111" stroke="#111" stroke-width="0.6"/>
<circle cx="79.85" cy="74.3" r="1.45" fill="#111" stroke="#111" stroke-width="0.6"/>
<circle cx="90.82" cy="71.3" r="1.45" fill="#111" stroke="#111" stroke-width="0.6"/>
<circle cx="101.79" cy="76.5" r="1.45" fill="#111" stroke="#111" stroke-width="0.6"/>
<circle cx="112.76" cy="79.3" r="1.45" fill="#111" stroke="#111" stroke-width="0.6"/>
<circle cx="123.73" cy="82.6" r="1.45" fill="#111" stroke="#111" stroke-width="0.6"/>
<polygon points="25,85.15 26.7,88.25 23.3,88.25" fill="#fff" stroke="#111" stroke-width="0.8" stroke-linejoin="round"/>
<polygon points="35.97,82.35 37.67,85.45 34.27,85.45" fill="#fff" stroke="#111" stroke-width="0.8" stroke-linejoin="round"/>
<polygon points="46.94,68.65 48.64,71.75 45.24,71.75" fill="#fff" stroke="#111" stroke-width="0.8" stroke-linejoin="round"/>
<polygon points="57.91,61.35 59.61,64.45 56.21,64.45" fill="#fff" stroke="#111" stroke-width="0.8" stroke-linejoin="round"/>
<polygon points="68.88,50.95 70.58,54.05 67.18,54.05" fill="#fff" stroke="#111" stroke-width="0.8" stroke-linejoin="round"/>
<polygon points="79.85,47.45 81.55,50.55 78.15,50.55" fill="#fff" stroke="#111" stroke-width="0.8" stroke-linejoin="round"/>
<polygon points="90.82,46.35 92.52,49.45 89.12,49.45" fill="#fff" stroke="#111" stroke-width="0.8" stroke-linejoin="round"/>
<polygon points="101.79,47.45 103.49,50.55 100.09,50.55" fill="#fff" stroke="#111" stroke-width="0.8" stroke-linejoin="round"/>
<polygon points="112.76,48.75 114.46,51.85 111.06,51.85" fill="#fff" stroke="#111" stroke-width="0.8" stroke-linejoin="round"/>
<polygon points="123.73,49.25 125.43,52.35 122.03,52.35" fill="#fff" stroke="#111" stroke-width="0.8" stroke-linejoin="round"/>
<circle cx="25" cy="87.1" r="1.45" fill="#fff" stroke="#111" stroke-width="0.8"/>
<circle cx="35.97" cy="84.3" r="1.45" fill="#fff" stroke="#111" stroke-width="0.8"/>
<circle cx="46.94" cy="72.6" r="1.45" fill="#fff" stroke="#111" stroke-width="0.8"/>
<circle cx="57.91" cy="73.3" r="1.45" fill="#fff" stroke="#111" stroke-width="0.8"/>
<circle cx="68.88" cy="72" r="1.45" fill="#fff" stroke="#111" stroke-width="0.8"/>
<circle cx="79.85" cy="74.4" r="1.45" fill="#fff" stroke="#111" stroke-width="0.8"/>
<circle cx="90.82" cy="71.2" r="1.45" fill="#fff" stroke="#111" stroke-width="0.8"/>
<circle cx="101.79" cy="78.4" r="1.45" fill="#fff" stroke="#111" stroke-width="0.8"/>
<circle cx="112.76" cy="79.3" r="1.45" fill="#fff" stroke="#111" stroke-width="0.8"/>
<circle cx="123.73" cy="82.6" r="1.45" fill="#fff" stroke="#111" stroke-width="0.8"/>
<line x1="57.91" y1="113" x2="57.91" y2="119" stroke="#333" stroke-width="0.7" />
<line x1="56.71" y1="113" x2="59.11" y2="113" stroke="#333" stroke-width="0.7" />
<line x1="56.71" y1="119" x2="59.11" y2="119" stroke="#333" stroke-width="0.7" />
<line x1="112.76" y1="115" x2="112.76" y2="127" stroke="#333" stroke-width="0.7" />
<line x1="111.56" y1="115" x2="113.96" y2="115" stroke="#333" stroke-width="0.7" />
<line x1="111.56" y1="127" x2="113.96" y2="127" stroke="#333" stroke-width="0.7" />
<line x1="112.76" y1="129" x2="112.76" y2="137.7" stroke="#333" stroke-width="0.7" />
<line x1="111.56" y1="129" x2="113.96" y2="129" stroke="#333" stroke-width="0.7" />
<line x1="111.56" y1="137.7" x2="113.96" y2="137.7" stroke="#333" stroke-width="0.7" />
<line x1="112.76" y1="144.8" x2="112.76" y2="151.4" stroke="#333" stroke-width="0.7" />
<line x1="111.56" y1="144.8" x2="113.96" y2="144.8" stroke="#333" stroke-width="0.7" />
<line x1="111.56" y1="151.4" x2="113.96" y2="151.4" stroke="#333" stroke-width="0.7" />
<line x1="123.73" y1="153" x2="123.73" y2="161" stroke="#333" stroke-width="0.7" />
<line x1="122.53" y1="153" x2="124.93" y2="153" stroke="#333" stroke-width="0.7" />
<line x1="122.53" y1="161" x2="124.93" y2="161" stroke="#333" stroke-width="0.7" />
<polyline points="25,102.4 35.97,102.6 46.94,105.5 57.91,111 68.88,120.3 79.85,125.3 90.82,126.6 101.79,144.6 112.76,147.7 123.73,152.1" fill="none" stroke="#1a1a1a" stroke-width="0.8" stroke-dasharray="2.2,1.3"/>
<polyline points="25,102.4 35.97,102.6 46.94,106.5 57.91,113 68.88,121.2 79.85,127 90.82,128.6 101.79,145.2 112.76,149 123.73,156.8" fill="none" stroke="#1a1a1a" stroke-width="0.8"/>
<polyline points="25,102.4 35.97,102.6 46.94,105 57.91,110.5 68.88,111.3 79.85,114.5 90.82,113.3 101.79,114.3 112.76,133.3 123.73,133" fill="none" stroke="#1a1a1a" stroke-width="0.8" stroke-dasharray="2.2,1.3"/>
<polyline points="25,102.4 35.97,102.6 46.94,105.5 57.91,111 68.88,111.7 79.85,114.7 90.82,113.5 101.79,115.3 112.76,121.1 123.73,132.5" fill="none" stroke="#1a1a1a" stroke-width="0.8"/>
<polygon points="25,100.45 26.7,103.55 23.3,103.55" fill="#111" stroke="#111" stroke-width="0.8" stroke-linejoin="round"/>
<polygon points="35.97,100.65 37.67,103.75 34.27,103.75" fill="#111" stroke="#111" stroke-width="0.8" stroke-linejoin="round"/>
<polygon points="46.94,103.55 48.64,106.65 45.24,106.65" fill="#111" stroke="#111" stroke-width="0.8" stroke-linejoin="round"/>
<polygon points="57.91,109.05 59.61,112.15 56.21,112.15" fill="#111" stroke="#111" stroke-width="0.8" stroke-linejoin="round"/>
<polygon points="68.88,109.75 70.58,112.85 67.18,112.85" fill="#111" stroke="#111" stroke-width="0.8" stroke-linejoin="round"/>
<polygon points="79.85,112.75 81.55,115.85 78.15,115.85" fill="#111" stroke="#111" stroke-width="0.8" stroke-linejoin="round"/>
<polygon points="90.82,111.55 92.52,114.65 89.12,114.65" fill="#111" stroke="#111" stroke-width="0.8" stroke-linejoin="round"/>
<polygon points="101.79,113.35 103.49,116.45 100.09,116.45" fill="#111" stroke="#111" stroke-width="0.8" stroke-linejoin="round"/>
<polygon points="112.76,119.15 114.46,122.25 111.06,122.25" fill="#111" stroke="#111" stroke-width="0.8" stroke-linejoin="round"/>
<polygon points="123.73,130.55 125.43,133.65 122.03,133.65" fill="#111" stroke="#111" stroke-width="0.8" stroke-linejoin="round"/>
<circle cx="25" cy="102.4" r="1.45" fill="#111" stroke="#111" stroke-width="0.6"/>
<circle cx="35.97" cy="102.6" r="1.45" fill="#111" stroke="#111" stroke-width="0.6"/>
<circle cx="46.94" cy="106.5" r="1.45" fill="#111" stroke="#111" stroke-width="0.6"/>
<circle cx="57.91" cy="113" r="1.45" fill="#111" stroke="#111" stroke-width="0.6"/>
<circle cx="68.88" cy="121.2" r="1.45" fill="#111" stroke="#111" stroke-width="0.6"/>
<circle cx="79.85" cy="127" r="1.45" fill="#111" stroke="#111" stroke-width="0.6"/>
<circle cx="90.82" cy="128.6" r="1.45" fill="#111" stroke="#111" stroke-width="0.6"/>
<circle cx="101.79" cy="145.2" r="1.45" fill="#111" stroke="#111" stroke-width="0.6"/>
<circle cx="112.76" cy="149" r="1.45" fill="#111" stroke="#111" stroke-width="0.6"/>
<circle cx="123.73" cy="156.8" r="1.45" fill="#111" stroke="#111" stroke-width="0.6"/>
<polygon points="25,100.45 26.7,103.55 23.3,103.55" fill="#fff" stroke="#111" stroke-width="0.8" stroke-linejoin="round"/>
<polygon points="35.97,100.65 37.67,103.75 34.27,103.75" fill="#fff" stroke="#111" stroke-width="0.8" stroke-linejoin="round"/>
<polygon points="46.94,103.05 48.64,106.15 45.24,106.15" fill="#fff" stroke="#111" stroke-width="0.8" stroke-linejoin="round"/>
<polygon points="57.91,108.55 59.61,111.65 56.21,111.65" fill="#fff" stroke="#111" stroke-width="0.8" stroke-linejoin="round"/>
<polygon points="68.88,109.35 70.58,112.45 67.18,112.45" fill="#fff" stroke="#111" stroke-width="0.8" stroke-linejoin="round"/>
<polygon points="79.85,112.55 81.55,115.65 78.15,115.65" fill="#fff" stroke="#111" stroke-width="0.8" stroke-linejoin="round"/>
<polygon points="90.82,111.35 92.52,114.45 89.12,114.45" fill="#fff" stroke="#111" stroke-width="0.8" stroke-linejoin="round"/>
<polygon points="101.79,112.35 103.49,115.45 100.09,115.45" fill="#fff" stroke="#111" stroke-width="0.8" stroke-linejoin="round"/>
<polygon points="112.76,131.35 114.46,134.45 111.06,134.45" fill="#fff" stroke="#111" stroke-width="0.8" stroke-linejoin="round"/>
<polygon points="123.73,131.05 125.43,134.15 122.03,134.15" fill="#fff" stroke="#111" stroke-width="0.8" stroke-linejoin="round"/>
<circle cx="25" cy="102.4" r="1.45" fill="#fff" stroke="#111" stroke-width="0.8"/>
<circle cx="35.97" cy="102.6" r="1.45" fill="#fff" stroke="#111" stroke-width="0.8"/>
<circle cx="46.94" cy="105.5" r="1.45" fill="#fff" stroke="#111" stroke-width="0.8"/>
<circle cx="57.91" cy="111" r="1.45" fill="#fff" stroke="#111" stroke-width="0.8"/>
<circle cx="68.88" cy="120.3" r="1.45" fill="#fff" stroke="#111" stroke-width="0.8"/>
<circle cx="79.85" cy="125.3" r="1.45" fill="#fff" stroke="#111" stroke-width="0.8"/>
<circle cx="90.82" cy="126.6" r="1.45" fill="#fff" stroke="#111" stroke-width="0.8"/>
<circle cx="101.79" cy="144.6" r="1.45" fill="#fff" stroke="#111" stroke-width="0.8"/>
<circle cx="112.76" cy="147.7" r="1.45" fill="#fff" stroke="#111" stroke-width="0.8"/>
<circle cx="123.73" cy="152.1" r="1.45" fill="#fff" stroke="#111" stroke-width="0.8"/>
<line x1="101.79" y1="205" x2="101.79" y2="212" stroke="#333" stroke-width="0.7" />
<line x1="100.59" y1="205" x2="102.99" y2="205" stroke="#333" stroke-width="0.7" />
<line x1="100.59" y1="212" x2="102.99" y2="212" stroke="#333" stroke-width="0.7" />
<line x1="112.76" y1="190" x2="112.76" y2="198.2" stroke="#333" stroke-width="0.7" />
<line x1="111.56" y1="190" x2="113.96" y2="190" stroke="#333" stroke-width="0.7" />
<line x1="111.56" y1="198.2" x2="113.96" y2="198.2" stroke="#333" stroke-width="0.7" />
<line x1="112.76" y1="206.3" x2="112.76" y2="212.5" stroke="#333" stroke-width="0.7" />
<line x1="111.56" y1="206.3" x2="113.96" y2="206.3" stroke="#333" stroke-width="0.7" />
<line x1="111.56" y1="212.5" x2="113.96" y2="212.5" stroke="#333" stroke-width="0.7" />
<line x1="123.73" y1="206" x2="123.73" y2="212" stroke="#333" stroke-width="0.7" />
<line x1="122.53" y1="206" x2="124.93" y2="206" stroke="#333" stroke-width="0.7" />
<line x1="122.53" y1="212" x2="124.93" y2="212" stroke="#333" stroke-width="0.7" />
<polyline points="25,246.7 35.97,245.1 46.94,243.6 57.91,240 68.88,232.1 79.85,226.4 90.82,225.5 101.79,211 112.76,209.3 123.73,207.8" fill="none" stroke="#1a1a1a" stroke-width="0.8" stroke-dasharray="2.2,1.3"/>
<polyline points="25,246.7 35.97,245.1 46.94,243.6 57.91,240.3 68.88,232.5 79.85,226.8 90.82,225.5 101.79,210.5 112.76,209.6 123.73,210.6" fill="none" stroke="#1a1a1a" stroke-width="0.8"/>
<polyline points="46.94,246.7 57.91,241 68.88,237.6 79.85,230.5 90.82,225.8 101.79,208.2 112.76,193.8 123.73,187.2" fill="none" stroke="#1a1a1a" stroke-width="0.8" stroke-dasharray="2.2,1.3"/>
<polyline points="46.94,246.7 57.91,241.2 68.88,237.8 79.85,230.8 90.82,225.8 101.79,207.5 112.76,188.3 123.73,181.2" fill="none" stroke="#1a1a1a" stroke-width="0.8"/>
<polygon points="46.94,244.75 48.64,247.85 45.24,247.85" fill="#111" stroke="#111" stroke-width="0.8" stroke-linejoin="round"/>
<polygon points="57.91,239.25 59.61,242.35 56.21,242.35" fill="#111" stroke="#111" stroke-width="0.8" stroke-linejoin="round"/>
<polygon points="68.88,235.85 70.58,238.95 67.18,238.95" fill="#111" stroke="#111" stroke-width="0.8" stroke-linejoin="round"/>
<polygon points="79.85,228.85 81.55,231.95 78.15,231.95" fill="#111" stroke="#111" stroke-width="0.8" stroke-linejoin="round"/>
<polygon points="90.82,223.85 92.52,226.95 89.12,226.95" fill="#111" stroke="#111" stroke-width="0.8" stroke-linejoin="round"/>
<polygon points="101.79,205.55 103.49,208.65 100.09,208.65" fill="#111" stroke="#111" stroke-width="0.8" stroke-linejoin="round"/>
<polygon points="112.76,186.35 114.46,189.45 111.06,189.45" fill="#111" stroke="#111" stroke-width="0.8" stroke-linejoin="round"/>
<polygon points="123.73,179.25 125.43,182.35 122.03,182.35" fill="#111" stroke="#111" stroke-width="0.8" stroke-linejoin="round"/>
<circle cx="25" cy="246.7" r="1.45" fill="#111" stroke="#111" stroke-width="0.6"/>
<circle cx="35.97" cy="245.1" r="1.45" fill="#111" stroke="#111" stroke-width="0.6"/>
<circle cx="46.94" cy="243.6" r="1.45" fill="#111" stroke="#111" stroke-width="0.6"/>
<circle cx="57.91" cy="240.3" r="1.45" fill="#111" stroke="#111" stroke-width="0.6"/>
<circle cx="68.88" cy="232.5" r="1.45" fill="#111" stroke="#111" stroke-width="0.6"/>
<circle cx="79.85" cy="226.8" r="1.45" fill="#111" stroke="#111" stroke-width="0.6"/>
<circle cx="90.82" cy="225.5" r="1.45" fill="#111" stroke="#111" stroke-width="0.6"/>
<circle cx="101.79" cy="210.5" r="1.45" fill="#111" stroke="#111" stroke-width="0.6"/>
<circle cx="112.76" cy="209.6" r="1.45" fill="#111" stroke="#111" stroke-width="0.6"/>
<circle cx="123.73" cy="210.6" r="1.45" fill="#111" stroke="#111" stroke-width="0.6"/>
<polygon points="46.94,244.75 48.64,247.85 45.24,247.85" fill="#fff" stroke="#111" stroke-width="0.8" stroke-linejoin="round"/>
<polygon points="57.91,239.05 59.61,242.15 56.21,242.15" fill="#fff" stroke="#111" stroke-width="0.8" stroke-linejoin="round"/>
<polygon points="68.88,235.65 70.58,238.75 67.18,238.75" fill="#fff" stroke="#111" stroke-width="0.8" stroke-linejoin="round"/>
<polygon points="79.85,228.55 81.55,231.65 78.15,231.65" fill="#fff" stroke="#111" stroke-width="0.8" stroke-linejoin="round"/>
<polygon points="90.82,223.85 92.52,226.95 89.12,226.95" fill="#fff" stroke="#111" stroke-width="0.8" stroke-linejoin="round"/>
<polygon points="101.79,206.25 103.49,209.35 100.09,209.35" fill="#fff" stroke="#111" stroke-width="0.8" stroke-linejoin="round"/>
<polygon points="112.76,191.85 114.46,194.95 111.06,194.95" fill="#fff" stroke="#111" stroke-width="0.8" stroke-linejoin="round"/>
<polygon points="123.73,185.25 125.43,188.35 122.03,188.35" fill="#fff" stroke="#111" stroke-width="0.8" stroke-linejoin="round"/>
<circle cx="25" cy="246.7" r="1.45" fill="#fff" stroke="#111" stroke-width="0.8"/>
<circle cx="35.97" cy="245.1" r="1.45" fill="#fff" stroke="#111" stroke-width="0.8"/>
<circle cx="46.94" cy="243.6" r="1.45" fill="#fff" stroke="#111" stroke-width="0.8"/>
<circle cx="57.91" cy="240" r="1.45" fill="#fff" stroke="#111" stroke-width="0.8"/>
<circle cx="68.88" cy="232.1" r="1.45" fill="#fff" stroke="#111" stroke-width="0.8"/>
<circle cx="79.85" cy="226.4" r="1.45" fill="#fff" stroke="#111" stroke-width="0.8"/>
<circle cx="90.82" cy="225.5" r="1.45" fill="#fff" stroke="#111" stroke-width="0.8"/>
<circle cx="101.79" cy="211" r="1.45" fill="#fff" stroke="#111" stroke-width="0.8"/>
<circle cx="112.76" cy="209.3" r="1.45" fill="#fff" stroke="#111" stroke-width="0.8"/>
<circle cx="123.73" cy="207.8" r="1.45" fill="#fff" stroke="#111" stroke-width="0.8"/>
<line x1="46.74" y1="214.1" x2="46.74" y2="233.3" stroke="#333" stroke-width="1.2" />
<polyline points="43.84,228.7 46.74,233.3 49.64,228.7" fill="none" stroke="#333" stroke-width="1.1"/>
<polyline points="153.2,87 165.99,81 178.78,63.3 191.57,63.3 204.36,63.6 217.15,67.6 229.94,71 242.73,73.8" fill="none" stroke="#1a1a1a" stroke-width="0.8" stroke-dasharray="2.2,1.3"/>
<polyline points="153.2,87 165.99,81 178.78,66.7 191.57,61.6 204.36,63.6 217.15,64.8 229.94,71 242.73,73.8" fill="none" stroke="#1a1a1a" stroke-width="0.8"/>
<polyline points="153.2,87 165.99,81 178.78,66 191.57,57.8 204.36,47.4 217.15,43.7 229.94,46.6 242.73,45.9" fill="none" stroke="#1a1a1a" stroke-width="0.8" stroke-dasharray="2.2,1.3"/>
<polyline points="153.2,87 165.99,81 178.78,66 191.57,57.8 204.36,47.4 217.15,43.9 229.94,46.6 242.73,46" fill="none" stroke="#1a1a1a" stroke-width="0.8"/>
<polygon points="153.2,85.05 154.9,88.15 151.5,88.15" fill="#111" stroke="#111" stroke-width="0.8" stroke-linejoin="round"/>
<polygon points="165.99,79.05 167.69,82.15 164.29,82.15" fill="#111" stroke="#111" stroke-width="0.8" stroke-linejoin="round"/>
<polygon points="178.78,64.05 180.48,67.15 177.08,67.15" fill="#111" stroke="#111" stroke-width="0.8" stroke-linejoin="round"/>
<polygon points="191.57,55.85 193.27,58.95 189.87,58.95" fill="#111" stroke="#111" stroke-width="0.8" stroke-linejoin="round"/>
<polygon points="204.36,45.45 206.06,48.55 202.66,48.55" fill="#111" stroke="#111" stroke-width="0.8" stroke-linejoin="round"/>
<polygon points="217.15,41.95 218.85,45.05 215.45,45.05" fill="#111" stroke="#111" stroke-width="0.8" stroke-linejoin="round"/>
<polygon points="229.94,44.65 231.64,47.75 228.24,47.75" fill="#111" stroke="#111" stroke-width="0.8" stroke-linejoin="round"/>
<polygon points="242.73,44.05 244.43,47.15 241.03,47.15" fill="#111" stroke="#111" stroke-width="0.8" stroke-linejoin="round"/>
<polygon points="153.2,85.05 154.9,88.15 151.5,88.15" fill="#fff" stroke="#111" stroke-width="0.8" stroke-linejoin="round"/>
<polygon points="165.99,79.05 167.69,82.15 164.29,82.15" fill="#fff" stroke="#111" stroke-width="0.8" stroke-linejoin="round"/>
<polygon points="178.78,64.05 180.48,67.15 177.08,67.15" fill="#fff" stroke="#111" stroke-width="0.8" stroke-linejoin="round"/>
<polygon points="191.57,55.85 193.27,58.95 189.87,58.95" fill="#fff" stroke="#111" stroke-width="0.8" stroke-linejoin="round"/>
<polygon points="204.36,45.45 206.06,48.55 202.66,48.55" fill="#fff" stroke="#111" stroke-width="0.8" stroke-linejoin="round"/>
<polygon points="217.15,41.75 218.85,44.85 215.45,44.85" fill="#fff" stroke="#111" stroke-width="0.8" stroke-linejoin="round"/>
<polygon points="229.94,44.65 231.64,47.75 228.24,47.75" fill="#fff" stroke="#111" stroke-width="0.8" stroke-linejoin="round"/>
<polygon points="242.73,43.95 244.43,47.05 241.03,47.05" fill="#fff" stroke="#111" stroke-width="0.8" stroke-linejoin="round"/>
<circle cx="153.2" cy="87" r="1.45" fill="#111" stroke="#111" stroke-width="0.6"/>
<circle cx="165.99" cy="81" r="1.45" fill="#111" stroke="#111" stroke-width="0.6"/>
<circle cx="178.78" cy="66.7" r="1.45" fill="#111" stroke="#111" stroke-width="0.6"/>
<circle cx="191.57" cy="61.6" r="1.45" fill="#111" stroke="#111" stroke-width="0.6"/>
<circle cx="204.36" cy="63.6" r="1.45" fill="#111" stroke="#111" stroke-width="0.6"/>
<circle cx="217.15" cy="64.8" r="1.45" fill="#111" stroke="#111" stroke-width="0.6"/>
<circle cx="229.94" cy="71" r="1.45" fill="#111" stroke="#111" stroke-width="0.6"/>
<circle cx="242.73" cy="73.8" r="1.45" fill="#111" stroke="#111" stroke-width="0.6"/>
<circle cx="153.2" cy="87" r="1.45" fill="#fff" stroke="#111" stroke-width="0.8"/>
<circle cx="165.99" cy="81" r="1.45" fill="#fff" stroke="#111" stroke-width="0.8"/>
<circle cx="178.78" cy="63.3" r="1.45" fill="#fff" stroke="#111" stroke-width="0.8"/>
<circle cx="191.57" cy="63.3" r="1.45" fill="#fff" stroke="#111" stroke-width="0.8"/>
<circle cx="204.36" cy="63.6" r="1.45" fill="#fff" stroke="#111" stroke-width="0.8"/>
<circle cx="217.15" cy="67.6" r="1.45" fill="#fff" stroke="#111" stroke-width="0.8"/>
<circle cx="229.94" cy="71" r="1.45" fill="#fff" stroke="#111" stroke-width="0.8"/>
<circle cx="242.73" cy="73.8" r="1.45" fill="#fff" stroke="#111" stroke-width="0.8"/>
<line x1="242.73" y1="154.9" x2="242.73" y2="162.4" stroke="#333" stroke-width="0.7" />
<line x1="241.53" y1="154.9" x2="243.93" y2="154.9" stroke="#333" stroke-width="0.7" />
<line x1="241.53" y1="162.4" x2="243.93" y2="162.4" stroke="#333" stroke-width="0.7" />
<polyline points="153.2,102.9 165.99,102.9 178.78,103.9 191.57,105.9 204.36,117 217.15,132.9 229.94,149.1 242.73,158.6" fill="none" stroke="#1a1a1a" stroke-width="0.8" stroke-dasharray="2.2,1.3"/>
<polyline points="153.2,102.9 165.99,102.9 178.78,103.9 191.57,105.9 204.36,117 217.15,129.8 229.94,150.5 242.73,158.6" fill="none" stroke="#1a1a1a" stroke-width="0.8"/>
<polyline points="153.2,102.9 165.99,102.9 178.78,103.9 191.57,105.9 204.36,105.3 217.15,109.6 229.94,116.3 242.73,119.1" fill="none" stroke="#1a1a1a" stroke-width="0.8" stroke-dasharray="2.2,1.3"/>
<polyline points="153.2,102.9 165.99,102.9 178.78,103.9 191.57,105.9 204.36,105.3 217.15,109.6 229.94,115.2 242.73,119.1" fill="none" stroke="#1a1a1a" stroke-width="0.8"/>
<polygon points="153.2,100.95 154.9,104.05 151.5,104.05" fill="#111" stroke="#111" stroke-width="0.8" stroke-linejoin="round"/>
<polygon points="165.99,100.95 167.69,104.05 164.29,104.05" fill="#111" stroke="#111" stroke-width="0.8" stroke-linejoin="round"/>
<polygon points="178.78,101.95 180.48,105.05 177.08,105.05" fill="#111" stroke="#111" stroke-width="0.8" stroke-linejoin="round"/>
<polygon points="191.57,103.95 193.27,107.05 189.87,107.05" fill="#111" stroke="#111" stroke-width="0.8" stroke-linejoin="round"/>
<polygon points="204.36,103.35 206.06,106.45 202.66,106.45" fill="#111" stroke="#111" stroke-width="0.8" stroke-linejoin="round"/>
<polygon points="217.15,107.65 218.85,110.75 215.45,110.75" fill="#111" stroke="#111" stroke-width="0.8" stroke-linejoin="round"/>
<polygon points="229.94,113.25 231.64,116.35 228.24,116.35" fill="#111" stroke="#111" stroke-width="0.8" stroke-linejoin="round"/>
<polygon points="242.73,117.15 244.43,120.25 241.03,120.25" fill="#111" stroke="#111" stroke-width="0.8" stroke-linejoin="round"/>
<circle cx="153.2" cy="102.9" r="1.45" fill="#111" stroke="#111" stroke-width="0.6"/>
<circle cx="165.99" cy="102.9" r="1.45" fill="#111" stroke="#111" stroke-width="0.6"/>
<circle cx="178.78" cy="103.9" r="1.45" fill="#111" stroke="#111" stroke-width="0.6"/>
<circle cx="191.57" cy="105.9" r="1.45" fill="#111" stroke="#111" stroke-width="0.6"/>
<circle cx="204.36" cy="117" r="1.45" fill="#111" stroke="#111" stroke-width="0.6"/>
<circle cx="217.15" cy="129.8" r="1.45" fill="#111" stroke="#111" stroke-width="0.6"/>
<circle cx="229.94" cy="150.5" r="1.45" fill="#111" stroke="#111" stroke-width="0.6"/>
<circle cx="242.73" cy="158.6" r="1.45" fill="#111" stroke="#111" stroke-width="0.6"/>
<polygon points="153.2,100.95 154.9,104.05 151.5,104.05" fill="#fff" stroke="#111" stroke-width="0.8" stroke-linejoin="round"/>
<polygon points="165.99,100.95 167.69,104.05 164.29,104.05" fill="#fff" stroke="#111" stroke-width="0.8" stroke-linejoin="round"/>
<polygon points="178.78,101.95 180.48,105.05 177.08,105.05" fill="#fff" stroke="#111" stroke-width="0.8" stroke-linejoin="round"/>
<polygon points="191.57,103.95 193.27,107.05 189.87,107.05" fill="#fff" stroke="#111" stroke-width="0.8" stroke-linejoin="round"/>
<polygon points="204.36,103.35 206.06,106.45 202.66,106.45" fill="#fff" stroke="#111" stroke-width="0.8" stroke-linejoin="round"/>
<polygon points="217.15,107.65 218.85,110.75 215.45,110.75" fill="#fff" stroke="#111" stroke-width="0.8" stroke-linejoin="round"/>
<polygon points="229.94,114.35 231.64,117.45 228.24,117.45" fill="#fff" stroke="#111" stroke-width="0.8" stroke-linejoin="round"/>
<polygon points="242.73,117.15 244.43,120.25 241.03,120.25" fill="#fff" stroke="#111" stroke-width="0.8" stroke-linejoin="round"/>
<circle cx="153.2" cy="102.9" r="1.45" fill="#fff" stroke="#111" stroke-width="0.8"/>
<circle cx="165.99" cy="102.9" r="1.45" fill="#fff" stroke="#111" stroke-width="0.8"/>
<circle cx="178.78" cy="103.9" r="1.45" fill="#fff" stroke="#111" stroke-width="0.8"/>
<circle cx="191.57" cy="105.9" r="1.45" fill="#fff" stroke="#111" stroke-width="0.8"/>
<circle cx="204.36" cy="117" r="1.45" fill="#fff" stroke="#111" stroke-width="0.8"/>
<circle cx="217.15" cy="132.9" r="1.45" fill="#fff" stroke="#111" stroke-width="0.8"/>
<circle cx="229.94" cy="149.1" r="1.45" fill="#fff" stroke="#111" stroke-width="0.8"/>
<circle cx="242.73" cy="158.6" r="1.45" fill="#fff" stroke="#111" stroke-width="0.8"/>
<line x1="178.78" y1="236.9" x2="178.78" y2="246" stroke="#888" stroke-width="0.9" />
<line x1="242.73" y1="190.5" x2="242.73" y2="203.8" stroke="#333" stroke-width="0.7" />
<line x1="241.53" y1="190.5" x2="243.93" y2="190.5" stroke="#333" stroke-width="0.7" />
<line x1="241.53" y1="203.8" x2="243.93" y2="203.8" stroke="#333" stroke-width="0.7" />
<polyline points="153.2,246 165.99,242.5 178.78,236.9" fill="none" stroke="#1a1a1a" stroke-width="0.8"/>
<polyline points="178.78,246 191.57,238.2 204.36,227.2 217.15,214.2 229.94,206.5 242.73,196" fill="none" stroke="#1a1a1a" stroke-width="0.8"/>
<polyline points="178.78,246 191.57,237.6 204.36,227.2 217.15,216.2 229.94,203.8 242.73,195.5" fill="none" stroke="#1a1a1a" stroke-width="0.8" stroke-dasharray="2.2,1.3"/>
<polyline points="178.78,246 191.57,238.5 204.36,232.1 217.15,225.1 229.94,207 242.73,197" fill="none" stroke="#1a1a1a" stroke-width="0.8" stroke-dasharray="2.2,1.3"/>
<polyline points="178.78,246 191.57,238.2 204.36,224 217.15,222.2 229.94,208.2 242.73,182.7" fill="none" stroke="#1a1a1a" stroke-width="0.8"/>
<polygon points="178.78,244.05 180.48,247.15 177.08,247.15" fill="#111" stroke="#111" stroke-width="0.8" stroke-linejoin="round"/>
<polygon points="191.57,236.25 193.27,239.35 189.87,239.35" fill="#111" stroke="#111" stroke-width="0.8" stroke-linejoin="round"/>
<polygon points="204.36,222.05 206.06,225.15 202.66,225.15" fill="#111" stroke="#111" stroke-width="0.8" stroke-linejoin="round"/>
<polygon points="217.15,220.25 218.85,223.35 215.45,223.35" fill="#111" stroke="#111" stroke-width="0.8" stroke-linejoin="round"/>
<polygon points="229.94,206.25 231.64,209.35 228.24,209.35" fill="#111" stroke="#111" stroke-width="0.8" stroke-linejoin="round"/>
<polygon points="242.73,180.75 244.43,183.85 241.03,183.85" fill="#111" stroke="#111" stroke-width="0.8" stroke-linejoin="round"/>
<circle cx="178.78" cy="246" r="1.45" fill="#111" stroke="#111" stroke-width="0.6"/>
<circle cx="191.57" cy="238.2" r="1.45" fill="#111" stroke="#111" stroke-width="0.6"/>
<circle cx="204.36" cy="227.2" r="1.45" fill="#111" stroke="#111" stroke-width="0.6"/>
<circle cx="217.15" cy="214.2" r="1.45" fill="#111" stroke="#111" stroke-width="0.6"/>
<circle cx="229.94" cy="206.5" r="1.45" fill="#111" stroke="#111" stroke-width="0.6"/>
<circle cx="242.73" cy="196" r="1.45" fill="#111" stroke="#111" stroke-width="0.6"/>
<polygon points="153.2,244.05 154.9,247.15 151.5,247.15" fill="#fff" stroke="#111" stroke-width="0.8" stroke-linejoin="round"/>
<polygon points="165.99,240.55 167.69,243.65 164.29,243.65" fill="#fff" stroke="#111" stroke-width="0.8" stroke-linejoin="round"/>
<polygon points="178.78,234.95 180.48,238.05 177.08,238.05" fill="#fff" stroke="#111" stroke-width="0.8" stroke-linejoin="round"/>
<polygon points="178.78,244.05 180.48,247.15 177.08,247.15" fill="#fff" stroke="#111" stroke-width="0.8" stroke-linejoin="round"/>
<polygon points="191.57,236.55 193.27,239.65 189.87,239.65" fill="#fff" stroke="#111" stroke-width="0.8" stroke-linejoin="round"/>
<polygon points="204.36,230.15 206.06,233.25 202.66,233.25" fill="#fff" stroke="#111" stroke-width="0.8" stroke-linejoin="round"/>
<polygon points="217.15,223.15 218.85,226.25 215.45,226.25" fill="#fff" stroke="#111" stroke-width="0.8" stroke-linejoin="round"/>
<polygon points="229.94,205.05 231.64,208.15 228.24,208.15" fill="#fff" stroke="#111" stroke-width="0.8" stroke-linejoin="round"/>
<polygon points="242.73,195.05 244.43,198.15 241.03,198.15" fill="#fff" stroke="#111" stroke-width="0.8" stroke-linejoin="round"/>
<circle cx="178.78" cy="246" r="1.45" fill="#fff" stroke="#111" stroke-width="0.8"/>
<circle cx="191.57" cy="237.6" r="1.45" fill="#fff" stroke="#111" stroke-width="0.8"/>
<circle cx="204.36" cy="227.2" r="1.45" fill="#fff" stroke="#111" stroke-width="0.8"/>
<circle cx="217.15" cy="216.2" r="1.45" fill="#fff" stroke="#111" stroke-width="0.8"/>
<circle cx="229.94" cy="203.8" r="1.45" fill="#fff" stroke="#111" stroke-width="0.8"/>
<circle cx="242.73" cy="195.5" r="1.45" fill="#fff" stroke="#111" stroke-width="0.8"/>
<line x1="178.78" y1="211.7" x2="178.78" y2="231.6" stroke="#333" stroke-width="1.2" />
<polyline points="175.88,227 178.78,231.6 181.68,227" fill="none" stroke="#333" stroke-width="1.1"/>
<line x1="284.88" y1="86" x2="284.88" y2="94.3" stroke="#333" stroke-width="0.7" />
<line x1="283.68" y1="86" x2="286.08" y2="86" stroke="#333" stroke-width="0.7" />
<line x1="283.68" y1="94.3" x2="286.08" y2="94.3" stroke="#333" stroke-width="0.7" />
<line x1="295.56" y1="72" x2="295.56" y2="81.4" stroke="#333" stroke-width="0.7" />
<line x1="294.36" y1="72" x2="296.76" y2="72" stroke="#333" stroke-width="0.7" />
<line x1="294.36" y1="81.4" x2="296.76" y2="81.4" stroke="#333" stroke-width="0.7" />
<line x1="306.24" y1="70.3" x2="306.24" y2="78.6" stroke="#333" stroke-width="0.7" />
<line x1="305.04" y1="70.3" x2="307.44" y2="70.3" stroke="#333" stroke-width="0.7" />
<line x1="305.04" y1="78.6" x2="307.44" y2="78.6" stroke="#333" stroke-width="0.7" />
<line x1="359.64" y1="85" x2="359.64" y2="94.6" stroke="#333" stroke-width="0.7" />
<line x1="358.44" y1="85" x2="360.84" y2="85" stroke="#333" stroke-width="0.7" />
<line x1="358.44" y1="94.6" x2="360.84" y2="94.6" stroke="#333" stroke-width="0.7" />
<line x1="359.64" y1="48.5" x2="359.64" y2="53" stroke="#333" stroke-width="0.7" />
<line x1="358.44" y1="48.5" x2="360.84" y2="48.5" stroke="#333" stroke-width="0.7" />
<line x1="358.44" y1="53" x2="360.84" y2="53" stroke="#333" stroke-width="0.7" />
<polyline points="274.2,86.9 284.88,86.9 295.56,74.5 306.24,73.1 316.92,70.8 327.6,76 338.28,76 348.96,79.1 359.64,80.9" fill="none" stroke="#1a1a1a" stroke-width="0.8" stroke-dasharray="2.2,1.3"/>
<polyline points="274.2,86.9 284.88,89.1 295.56,76.8 306.24,73.1 316.92,74.2 327.6,77.8 338.28,84.3 348.96,84.3 359.64,89" fill="none" stroke="#1a1a1a" stroke-width="0.8"/>
<polyline points="274.2,86.9 284.88,86.9 295.56,74 306.24,73.1 316.92,65.7 327.6,62.3 338.28,56.6 348.96,53.8 359.64,53.3" fill="none" stroke="#1a1a1a" stroke-width="0.8" stroke-dasharray="2.2,1.3"/>
<polyline points="274.2,86.9 284.88,89.1 295.56,76.8 306.24,73.1 316.92,63.6 327.6,59.2 338.28,53.8 348.96,50.7 359.64,50.7" fill="none" stroke="#1a1a1a" stroke-width="0.8"/>
<polygon points="274.2,84.95 275.9,88.05 272.5,88.05" fill="#111" stroke="#111" stroke-width="0.8" stroke-linejoin="round"/>
<polygon points="284.88,87.15 286.58,90.25 283.18,90.25" fill="#111" stroke="#111" stroke-width="0.8" stroke-linejoin="round"/>
<polygon points="295.56,74.85 297.26,77.95 293.86,77.95" fill="#111" stroke="#111" stroke-width="0.8" stroke-linejoin="round"/>
<polygon points="306.24,71.15 307.94,74.25 304.54,74.25" fill="#111" stroke="#111" stroke-width="0.8" stroke-linejoin="round"/>
<polygon points="316.92,61.65 318.62,64.75 315.22,64.75" fill="#111" stroke="#111" stroke-width="0.8" stroke-linejoin="round"/>
<polygon points="327.6,57.25 329.3,60.35 325.9,60.35" fill="#111" stroke="#111" stroke-width="0.8" stroke-linejoin="round"/>
<polygon points="338.28,51.85 339.98,54.95 336.58,54.95" fill="#111" stroke="#111" stroke-width="0.8" stroke-linejoin="round"/>
<polygon points="348.96,48.75 350.66,51.85 347.26,51.85" fill="#111" stroke="#111" stroke-width="0.8" stroke-linejoin="round"/>
<polygon points="359.64,48.75 361.34,51.85 357.94,51.85" fill="#111" stroke="#111" stroke-width="0.8" stroke-linejoin="round"/>
<circle cx="274.2" cy="86.9" r="1.45" fill="#111" stroke="#111" stroke-width="0.6"/>
<circle cx="284.88" cy="89.1" r="1.45" fill="#111" stroke="#111" stroke-width="0.6"/>
<circle cx="295.56" cy="76.8" r="1.45" fill="#111" stroke="#111" stroke-width="0.6"/>
<circle cx="306.24" cy="73.1" r="1.45" fill="#111" stroke="#111" stroke-width="0.6"/>
<circle cx="316.92" cy="74.2" r="1.45" fill="#111" stroke="#111" stroke-width="0.6"/>
<circle cx="327.6" cy="77.8" r="1.45" fill="#111" stroke="#111" stroke-width="0.6"/>
<circle cx="338.28" cy="84.3" r="1.45" fill="#111" stroke="#111" stroke-width="0.6"/>
<circle cx="348.96" cy="84.3" r="1.45" fill="#111" stroke="#111" stroke-width="0.6"/>
<circle cx="359.64" cy="89" r="1.45" fill="#111" stroke="#111" stroke-width="0.6"/>
<polygon points="274.2,84.95 275.9,88.05 272.5,88.05" fill="#fff" stroke="#111" stroke-width="0.8" stroke-linejoin="round"/>
<polygon points="284.88,84.95 286.58,88.05 283.18,88.05" fill="#fff" stroke="#111" stroke-width="0.8" stroke-linejoin="round"/>
<polygon points="295.56,72.05 297.26,75.15 293.86,75.15" fill="#fff" stroke="#111" stroke-width="0.8" stroke-linejoin="round"/>
<polygon points="306.24,71.15 307.94,74.25 304.54,74.25" fill="#fff" stroke="#111" stroke-width="0.8" stroke-linejoin="round"/>
<polygon points="316.92,63.75 318.62,66.85 315.22,66.85" fill="#fff" stroke="#111" stroke-width="0.8" stroke-linejoin="round"/>
<polygon points="327.6,60.35 329.3,63.45 325.9,63.45" fill="#fff" stroke="#111" stroke-width="0.8" stroke-linejoin="round"/>
<polygon points="338.28,54.65 339.98,57.75 336.58,57.75" fill="#fff" stroke="#111" stroke-width="0.8" stroke-linejoin="round"/>
<polygon points="348.96,51.85 350.66,54.95 347.26,54.95" fill="#fff" stroke="#111" stroke-width="0.8" stroke-linejoin="round"/>
<polygon points="359.64,51.35 361.34,54.45 357.94,54.45" fill="#fff" stroke="#111" stroke-width="0.8" stroke-linejoin="round"/>
<circle cx="274.2" cy="86.9" r="1.45" fill="#fff" stroke="#111" stroke-width="0.8"/>
<circle cx="284.88" cy="86.9" r="1.45" fill="#fff" stroke="#111" stroke-width="0.8"/>
<circle cx="295.56" cy="74.5" r="1.45" fill="#fff" stroke="#111" stroke-width="0.8"/>
<circle cx="306.24" cy="73.1" r="1.45" fill="#fff" stroke="#111" stroke-width="0.8"/>
<circle cx="316.92" cy="70.8" r="1.45" fill="#fff" stroke="#111" stroke-width="0.8"/>
<circle cx="327.6" cy="76" r="1.45" fill="#fff" stroke="#111" stroke-width="0.8"/>
<circle cx="338.28" cy="76" r="1.45" fill="#fff" stroke="#111" stroke-width="0.8"/>
<circle cx="348.96" cy="79.1" r="1.45" fill="#fff" stroke="#111" stroke-width="0.8"/>
<circle cx="359.64" cy="80.9" r="1.45" fill="#fff" stroke="#111" stroke-width="0.8"/>
<line x1="338.28" y1="115.8" x2="338.28" y2="121.8" stroke="#333" stroke-width="0.7" />
<line x1="337.08" y1="115.8" x2="339.48" y2="115.8" stroke="#333" stroke-width="0.7" />
<line x1="337.08" y1="121.8" x2="339.48" y2="121.8" stroke="#333" stroke-width="0.7" />
<line x1="348.96" y1="119" x2="348.96" y2="133.5" stroke="#333" stroke-width="0.7" />
<line x1="347.76" y1="119" x2="350.16" y2="119" stroke="#333" stroke-width="0.7" />
<line x1="347.76" y1="133.5" x2="350.16" y2="133.5" stroke="#333" stroke-width="0.7" />
<line x1="348.96" y1="137" x2="348.96" y2="153.6" stroke="#333" stroke-width="0.7" />
<line x1="347.76" y1="137" x2="350.16" y2="137" stroke="#333" stroke-width="0.7" />
<line x1="347.76" y1="153.6" x2="350.16" y2="153.6" stroke="#333" stroke-width="0.7" />
<line x1="338.28" y1="136.5" x2="338.28" y2="141" stroke="#333" stroke-width="0.7" />
<line x1="337.08" y1="136.5" x2="339.48" y2="136.5" stroke="#333" stroke-width="0.7" />
<line x1="337.08" y1="141" x2="339.48" y2="141" stroke="#333" stroke-width="0.7" />
<line x1="359.64" y1="114.5" x2="359.64" y2="121" stroke="#333" stroke-width="0.7" />
<line x1="358.44" y1="114.5" x2="360.84" y2="114.5" stroke="#333" stroke-width="0.7" />
<line x1="358.44" y1="121" x2="360.84" y2="121" stroke="#333" stroke-width="0.7" />
<polyline points="274.2,102.1 284.88,102.4 295.56,103.6 306.24,104.6 316.92,110.3 327.6,116.9 338.28,118.7 348.96,125.8 359.64,132" fill="none" stroke="#1a1a1a" stroke-width="0.8" stroke-dasharray="2.2,1.3"/>
<polyline points="274.2,102.1 284.88,102.4 295.56,103.6 306.24,105.6 316.92,118 327.6,131.3 338.28,138.6 348.96,145.3 359.64,156.1" fill="none" stroke="#1a1a1a" stroke-width="0.8"/>
<polyline points="274.2,102.1 284.88,102.4 295.56,103.6 306.24,104.6 316.92,106.5 327.6,109.8 338.28,110.7 348.96,113.5 359.64,119" fill="none" stroke="#1a1a1a" stroke-width="0.8" stroke-dasharray="2.2,1.3"/>
<polyline points="274.2,102.1 284.88,102.4 295.56,103.6 306.24,105 316.92,105.9 327.6,108.5 338.28,109.2 348.96,112.9 359.64,118" fill="none" stroke="#1a1a1a" stroke-width="0.8"/>
<polygon points="274.2,100.15 275.9,103.25 272.5,103.25" fill="#fff" stroke="#111" stroke-width="0.8" stroke-linejoin="round"/>
<polygon points="284.88,100.45 286.58,103.55 283.18,103.55" fill="#fff" stroke="#111" stroke-width="0.8" stroke-linejoin="round"/>
<polygon points="295.56,101.65 297.26,104.75 293.86,104.75" fill="#fff" stroke="#111" stroke-width="0.8" stroke-linejoin="round"/>
<polygon points="306.24,102.65 307.94,105.75 304.54,105.75" fill="#fff" stroke="#111" stroke-width="0.8" stroke-linejoin="round"/>
<polygon points="316.92,104.55 318.62,107.65 315.22,107.65" fill="#fff" stroke="#111" stroke-width="0.8" stroke-linejoin="round"/>
<polygon points="327.6,107.85 329.3,110.95 325.9,110.95" fill="#fff" stroke="#111" stroke-width="0.8" stroke-linejoin="round"/>
<polygon points="338.28,108.75 339.98,111.85 336.58,111.85" fill="#fff" stroke="#111" stroke-width="0.8" stroke-linejoin="round"/>
<polygon points="348.96,111.55 350.66,114.65 347.26,114.65" fill="#fff" stroke="#111" stroke-width="0.8" stroke-linejoin="round"/>
<polygon points="359.64,117.05 361.34,120.15 357.94,120.15" fill="#fff" stroke="#111" stroke-width="0.8" stroke-linejoin="round"/>
<circle cx="274.2" cy="102.1" r="1.45" fill="#fff" stroke="#111" stroke-width="0.8"/>
<circle cx="284.88" cy="102.4" r="1.45" fill="#fff" stroke="#111" stroke-width="0.8"/>
<circle cx="295.56" cy="103.6" r="1.45" fill="#fff" stroke="#111" stroke-width="0.8"/>
<circle cx="306.24" cy="104.6" r="1.45" fill="#fff" stroke="#111" stroke-width="0.8"/>
<circle cx="316.92" cy="110.3" r="1.45" fill="#fff" stroke="#111" stroke-width="0.8"/>
<circle cx="327.6" cy="116.9" r="1.45" fill="#fff" stroke="#111" stroke-width="0.8"/>
<circle cx="338.28" cy="118.7" r="1.45" fill="#fff" stroke="#111" stroke-width="0.8"/>
<circle cx="348.96" cy="125.8" r="1.45" fill="#fff" stroke="#111" stroke-width="0.8"/>
<circle cx="359.64" cy="132" r="1.45" fill="#fff" stroke="#111" stroke-width="0.8"/>
<polygon points="274.2,100.15 275.9,103.25 272.5,103.25" fill="#111" stroke="#111" stroke-width="0.8" stroke-linejoin="round"/>
<polygon points="284.88,100.45 286.58,103.55 283.18,103.55" fill="#111" stroke="#111" stroke-width="0.8" stroke-linejoin="round"/>
<polygon points="295.56,101.65 297.26,104.75 293.86,104.75" fill="#111" stroke="#111" stroke-width="0.8" stroke-linejoin="round"/>
<polygon points="306.24,103.05 307.94,106.15 304.54,106.15" fill="#111" stroke="#111" stroke-width="0.8" stroke-linejoin="round"/>
<polygon points="316.92,103.95 318.62,107.05 315.22,107.05" fill="#111" stroke="#111" stroke-width="0.8" stroke-linejoin="round"/>
<polygon points="327.6,106.55 329.3,109.65 325.9,109.65" fill="#111" stroke="#111" stroke-width="0.8" stroke-linejoin="round"/>
<polygon points="338.28,107.25 339.98,110.35 336.58,110.35" fill="#111" stroke="#111" stroke-width="0.8" stroke-linejoin="round"/>
<polygon points="348.96,110.95 350.66,114.05 347.26,114.05" fill="#111" stroke="#111" stroke-width="0.8" stroke-linejoin="round"/>
<polygon points="359.64,116.05 361.34,119.15 357.94,119.15" fill="#111" stroke="#111" stroke-width="0.8" stroke-linejoin="round"/>
<circle cx="274.2" cy="102.1" r="1.45" fill="#111" stroke="#111" stroke-width="0.6"/>
<circle cx="284.88" cy="102.4" r="1.45" fill="#111" stroke="#111" stroke-width="0.6"/>
<circle cx="295.56" cy="103.6" r="1.45" fill="#111" stroke="#111" stroke-width="0.6"/>
<circle cx="306.24" cy="105.6" r="1.45" fill="#111" stroke="#111" stroke-width="0.6"/>
<circle cx="316.92" cy="118" r="1.45" fill="#111" stroke="#111" stroke-width="0.6"/>
<circle cx="327.6" cy="131.3" r="1.45" fill="#111" stroke="#111" stroke-width="0.6"/>
<circle cx="338.28" cy="138.6" r="1.45" fill="#111" stroke="#111" stroke-width="0.6"/>
<circle cx="348.96" cy="145.3" r="1.45" fill="#111" stroke="#111" stroke-width="0.6"/>
<circle cx="359.64" cy="156.1" r="1.45" fill="#111" stroke="#111" stroke-width="0.6"/>
<circle cx="274.2" cy="102.1" r="1.45" fill="#fff" stroke="#111" stroke-width="0.8"/>
<circle cx="284.88" cy="102.4" r="1.45" fill="#fff" stroke="#111" stroke-width="0.8"/>
<circle cx="295.56" cy="103.6" r="1.45" fill="#fff" stroke="#111" stroke-width="0.8"/>
<circle cx="306.24" cy="104.6" r="1.45" fill="#fff" stroke="#111" stroke-width="0.8"/>
<line x1="359.64" y1="181.1" x2="359.64" y2="187" stroke="#333" stroke-width="0.7" />
<line x1="358.44" y1="181.1" x2="360.84" y2="181.1" stroke="#333" stroke-width="0.7" />
<line x1="358.44" y1="187" x2="360.84" y2="187" stroke="#333" stroke-width="0.7" />
<polyline points="274.2,246.8 284.88,243.8 295.56,242.1" fill="none" stroke="#1a1a1a" stroke-width="0.8"/>
<polyline points="295.56,246.8 306.24,236.9 316.92,233.8 327.6,216.6 338.28,212.1 348.96,194.4 359.64,189.5" fill="none" stroke="#1a1a1a" stroke-width="0.8" stroke-dasharray="2.2,1.3"/>
<polyline points="295.56,246.8 306.24,236.9 316.92,233.8 327.6,217.5 338.28,213 348.96,196.4 359.64,194.8" fill="none" stroke="#1a1a1a" stroke-width="0.8"/>
<polyline points="295.56,246.8 306.24,236.9 316.92,233.8 327.6,218.8 338.28,221.5 348.96,187.3 359.64,183.8" fill="none" stroke="#1a1a1a" stroke-width="0.8"/>
<circle cx="295.56" cy="246.8" r="1.45" fill="#111" stroke="#111" stroke-width="0.6"/>
<circle cx="306.24" cy="236.9" r="1.45" fill="#111" stroke="#111" stroke-width="0.6"/>
<circle cx="316.92" cy="233.8" r="1.45" fill="#111" stroke="#111" stroke-width="0.6"/>
<circle cx="327.6" cy="217.5" r="1.45" fill="#111" stroke="#111" stroke-width="0.6"/>
<circle cx="338.28" cy="213" r="1.45" fill="#111" stroke="#111" stroke-width="0.6"/>
<circle cx="348.96" cy="196.4" r="1.45" fill="#111" stroke="#111" stroke-width="0.6"/>
<circle cx="359.64" cy="194.8" r="1.45" fill="#111" stroke="#111" stroke-width="0.6"/>
<circle cx="295.56" cy="246.8" r="1.45" fill="#111" stroke="#111" stroke-width="0.6"/>
<circle cx="306.24" cy="236.9" r="1.45" fill="#111" stroke="#111" stroke-width="0.6"/>
<circle cx="316.92" cy="233.8" r="1.45" fill="#111" stroke="#111" stroke-width="0.6"/>
<circle cx="327.6" cy="218.8" r="1.45" fill="#111" stroke="#111" stroke-width="0.6"/>
<circle cx="338.28" cy="221.5" r="1.45" fill="#111" stroke="#111" stroke-width="0.6"/>
<circle cx="348.96" cy="187.3" r="1.45" fill="#111" stroke="#111" stroke-width="0.6"/>
<circle cx="359.64" cy="183.8" r="1.45" fill="#111" stroke="#111" stroke-width="0.6"/>
<circle cx="274.2" cy="246.8" r="1.45" fill="#fff" stroke="#111" stroke-width="0.8"/>
<circle cx="284.88" cy="243.8" r="1.45" fill="#fff" stroke="#111" stroke-width="0.8"/>
<circle cx="295.56" cy="242.1" r="1.45" fill="#fff" stroke="#111" stroke-width="0.8"/>
<circle cx="295.56" cy="246.8" r="1.45" fill="#fff" stroke="#111" stroke-width="0.8"/>
<circle cx="306.24" cy="236.9" r="1.45" fill="#fff" stroke="#111" stroke-width="0.8"/>
<circle cx="316.92" cy="233.8" r="1.45" fill="#fff" stroke="#111" stroke-width="0.8"/>
<circle cx="327.6" cy="216.6" r="1.45" fill="#fff" stroke="#111" stroke-width="0.8"/>
<circle cx="338.28" cy="212.1" r="1.45" fill="#fff" stroke="#111" stroke-width="0.8"/>
<circle cx="348.96" cy="194.4" r="1.45" fill="#fff" stroke="#111" stroke-width="0.8"/>
<circle cx="359.64" cy="189.5" r="1.45" fill="#fff" stroke="#111" stroke-width="0.8"/>
<line x1="296.56" y1="214.4" x2="296.56" y2="233.6" stroke="#333" stroke-width="1.2" />
<polyline points="293.66,229 296.56,233.6 299.46,229" fill="none" stroke="#333" stroke-width="1.1"/>
<polyline points="389.9,82.7 403.21,86.9 416.52,78.1 429.83,66.5 443.14,72.1 456.45,72.1 469.76,75 483.07,75" fill="none" stroke="#1a1a1a" stroke-width="0.8" stroke-dasharray="2.2,1.3"/>
<polyline points="389.9,82.7 403.21,86.9 416.52,75.4 429.83,69.9 443.14,83.7 456.45,82.5 469.76,93.6 483.07,92.7" fill="none" stroke="#1a1a1a" stroke-width="0.8"/>
<polyline points="389.9,82.7 403.21,86.9 416.52,78.1 429.83,65.5 443.14,58.8 456.45,55.9 469.76,55.5 483.07,55.9" fill="none" stroke="#1a1a1a" stroke-width="0.8" stroke-dasharray="2.2,1.3"/>
<polyline points="389.9,82.7 403.21,86.9 416.52,75.4 429.83,67 443.14,59.5 456.45,58.2 469.76,55.5 483.07,55.9" fill="none" stroke="#1a1a1a" stroke-width="0.8"/>
<polygon points="389.9,80.75 391.6,83.85 388.2,83.85" fill="#111" stroke="#111" stroke-width="0.8" stroke-linejoin="round"/>
<polygon points="403.21,84.95 404.91,88.05 401.51,88.05" fill="#111" stroke="#111" stroke-width="0.8" stroke-linejoin="round"/>
<polygon points="416.52,73.45 418.22,76.55 414.82,76.55" fill="#111" stroke="#111" stroke-width="0.8" stroke-linejoin="round"/>
<polygon points="429.83,65.05 431.53,68.15 428.13,68.15" fill="#111" stroke="#111" stroke-width="0.8" stroke-linejoin="round"/>
<polygon points="443.14,57.55 444.84,60.65 441.44,60.65" fill="#111" stroke="#111" stroke-width="0.8" stroke-linejoin="round"/>
<polygon points="456.45,56.25 458.15,59.35 454.75,59.35" fill="#111" stroke="#111" stroke-width="0.8" stroke-linejoin="round"/>
<polygon points="469.76,53.55 471.46,56.65 468.06,56.65" fill="#111" stroke="#111" stroke-width="0.8" stroke-linejoin="round"/>
<polygon points="483.07,53.95 484.77,57.05 481.37,57.05" fill="#111" stroke="#111" stroke-width="0.8" stroke-linejoin="round"/>
<circle cx="389.9" cy="82.7" r="1.45" fill="#111" stroke="#111" stroke-width="0.6"/>
<circle cx="403.21" cy="86.9" r="1.45" fill="#111" stroke="#111" stroke-width="0.6"/>
<circle cx="416.52" cy="75.4" r="1.45" fill="#111" stroke="#111" stroke-width="0.6"/>
<circle cx="429.83" cy="69.9" r="1.45" fill="#111" stroke="#111" stroke-width="0.6"/>
<circle cx="443.14" cy="83.7" r="1.45" fill="#111" stroke="#111" stroke-width="0.6"/>
<circle cx="456.45" cy="82.5" r="1.45" fill="#111" stroke="#111" stroke-width="0.6"/>
<circle cx="469.76" cy="93.6" r="1.45" fill="#111" stroke="#111" stroke-width="0.6"/>
<circle cx="483.07" cy="92.7" r="1.45" fill="#111" stroke="#111" stroke-width="0.6"/>
<polygon points="389.9,80.75 391.6,83.85 388.2,83.85" fill="#fff" stroke="#111" stroke-width="0.8" stroke-linejoin="round"/>
<polygon points="403.21,84.95 404.91,88.05 401.51,88.05" fill="#fff" stroke="#111" stroke-width="0.8" stroke-linejoin="round"/>
<polygon points="416.52,76.15 418.22,79.25 414.82,79.25" fill="#fff" stroke="#111" stroke-width="0.8" stroke-linejoin="round"/>
<polygon points="429.83,63.55 431.53,66.65 428.13,66.65" fill="#fff" stroke="#111" stroke-width="0.8" stroke-linejoin="round"/>
<polygon points="443.14,56.85 444.84,59.95 441.44,59.95" fill="#fff" stroke="#111" stroke-width="0.8" stroke-linejoin="round"/>
<polygon points="456.45,53.95 458.15,57.05 454.75,57.05" fill="#fff" stroke="#111" stroke-width="0.8" stroke-linejoin="round"/>
<polygon points="469.76,53.55 471.46,56.65 468.06,56.65" fill="#fff" stroke="#111" stroke-width="0.8" stroke-linejoin="round"/>
<polygon points="483.07,53.95 484.77,57.05 481.37,57.05" fill="#fff" stroke="#111" stroke-width="0.8" stroke-linejoin="round"/>
<circle cx="389.9" cy="82.7" r="1.45" fill="#fff" stroke="#111" stroke-width="0.8"/>
<circle cx="403.21" cy="86.9" r="1.45" fill="#fff" stroke="#111" stroke-width="0.8"/>
<circle cx="416.52" cy="78.1" r="1.45" fill="#fff" stroke="#111" stroke-width="0.8"/>
<circle cx="429.83" cy="66.5" r="1.45" fill="#fff" stroke="#111" stroke-width="0.8"/>
<circle cx="443.14" cy="72.1" r="1.45" fill="#fff" stroke="#111" stroke-width="0.8"/>
<circle cx="456.45" cy="72.1" r="1.45" fill="#fff" stroke="#111" stroke-width="0.8"/>
<circle cx="469.76" cy="75" r="1.45" fill="#fff" stroke="#111" stroke-width="0.8"/>
<circle cx="483.07" cy="75" r="1.45" fill="#fff" stroke="#111" stroke-width="0.8"/>
<polyline points="389.9,104 403.21,104 416.52,105.4 429.83,104.7 443.14,119.5 456.45,124.4 469.76,126.7 483.07,126.7" fill="none" stroke="#1a1a1a" stroke-width="0.8" stroke-dasharray="2.2,1.3"/>
<polyline points="389.9,104 403.21,104 416.52,105.4 429.83,107 443.14,145 456.45,151.8 469.76,169.9 483.07,171.4" fill="none" stroke="#1a1a1a" stroke-width="0.8"/>
<polyline points="389.9,104 403.21,104 416.52,105.4 429.83,104.7 443.14,110 456.45,111.4 469.76,113.7 483.07,114.9" fill="none" stroke="#1a1a1a" stroke-width="0.8" stroke-dasharray="2.2,1.3"/>
<polyline points="389.9,104 403.21,104 416.52,105.4 429.83,105.5 443.14,110.3 456.45,114.3 469.76,114.3 483.07,115.5" fill="none" stroke="#1a1a1a" stroke-width="0.8"/>
<polygon points="389.9,102.05 391.6,105.15 388.2,105.15" fill="#111" stroke="#111" stroke-width="0.8" stroke-linejoin="round"/>
<polygon points="403.21,102.05 404.91,105.15 401.51,105.15" fill="#111" stroke="#111" stroke-width="0.8" stroke-linejoin="round"/>
<polygon points="416.52,103.45 418.22,106.55 414.82,106.55" fill="#111" stroke="#111" stroke-width="0.8" stroke-linejoin="round"/>
<polygon points="429.83,103.55 431.53,106.65 428.13,106.65" fill="#111" stroke="#111" stroke-width="0.8" stroke-linejoin="round"/>
<polygon points="443.14,108.35 444.84,111.45 441.44,111.45" fill="#111" stroke="#111" stroke-width="0.8" stroke-linejoin="round"/>
<polygon points="456.45,112.35 458.15,115.45 454.75,115.45" fill="#111" stroke="#111" stroke-width="0.8" stroke-linejoin="round"/>
<polygon points="469.76,112.35 471.46,115.45 468.06,115.45" fill="#111" stroke="#111" stroke-width="0.8" stroke-linejoin="round"/>
<polygon points="483.07,113.55 484.77,116.65 481.37,116.65" fill="#111" stroke="#111" stroke-width="0.8" stroke-linejoin="round"/>
<circle cx="389.9" cy="104" r="1.45" fill="#111" stroke="#111" stroke-width="0.6"/>
<circle cx="403.21" cy="104" r="1.45" fill="#111" stroke="#111" stroke-width="0.6"/>
<circle cx="416.52" cy="105.4" r="1.45" fill="#111" stroke="#111" stroke-width="0.6"/>
<circle cx="429.83" cy="107" r="1.45" fill="#111" stroke="#111" stroke-width="0.6"/>
<circle cx="443.14" cy="145" r="1.45" fill="#111" stroke="#111" stroke-width="0.6"/>
<circle cx="456.45" cy="151.8" r="1.45" fill="#111" stroke="#111" stroke-width="0.6"/>
<circle cx="469.76" cy="169.9" r="1.45" fill="#111" stroke="#111" stroke-width="0.6"/>
<circle cx="483.07" cy="171.4" r="1.45" fill="#111" stroke="#111" stroke-width="0.6"/>
<polygon points="389.9,102.05 391.6,105.15 388.2,105.15" fill="#fff" stroke="#111" stroke-width="0.8" stroke-linejoin="round"/>
<polygon points="403.21,102.05 404.91,105.15 401.51,105.15" fill="#fff" stroke="#111" stroke-width="0.8" stroke-linejoin="round"/>
<polygon points="416.52,103.45 418.22,106.55 414.82,106.55" fill="#fff" stroke="#111" stroke-width="0.8" stroke-linejoin="round"/>
<polygon points="429.83,102.75 431.53,105.85 428.13,105.85" fill="#fff" stroke="#111" stroke-width="0.8" stroke-linejoin="round"/>
<polygon points="443.14,108.05 444.84,111.15 441.44,111.15" fill="#fff" stroke="#111" stroke-width="0.8" stroke-linejoin="round"/>
<polygon points="456.45,109.45 458.15,112.55 454.75,112.55" fill="#fff" stroke="#111" stroke-width="0.8" stroke-linejoin="round"/>
<polygon points="469.76,111.75 471.46,114.85 468.06,114.85" fill="#fff" stroke="#111" stroke-width="0.8" stroke-linejoin="round"/>
<polygon points="483.07,112.95 484.77,116.05 481.37,116.05" fill="#fff" stroke="#111" stroke-width="0.8" stroke-linejoin="round"/>
<circle cx="389.9" cy="104" r="1.45" fill="#fff" stroke="#111" stroke-width="0.8"/>
<circle cx="403.21" cy="104" r="1.45" fill="#fff" stroke="#111" stroke-width="0.8"/>
<circle cx="416.52" cy="105.4" r="1.45" fill="#fff" stroke="#111" stroke-width="0.8"/>
<circle cx="429.83" cy="104.7" r="1.45" fill="#fff" stroke="#111" stroke-width="0.8"/>
<circle cx="443.14" cy="119.5" r="1.45" fill="#fff" stroke="#111" stroke-width="0.8"/>
<circle cx="456.45" cy="124.4" r="1.45" fill="#fff" stroke="#111" stroke-width="0.8"/>
<circle cx="469.76" cy="126.7" r="1.45" fill="#fff" stroke="#111" stroke-width="0.8"/>
<circle cx="483.07" cy="126.7" r="1.45" fill="#fff" stroke="#111" stroke-width="0.8"/>
<polyline points="389.9,248 403.21,243.8 416.52,240.5" fill="none" stroke="#1a1a1a" stroke-width="0.8"/>
<polyline points="416.52,248 429.83,237.6 443.14,223.7 456.45,212.5 469.76,208 483.07,200.3" fill="none" stroke="#1a1a1a" stroke-width="0.8" stroke-dasharray="2.2,1.3"/>
<polyline points="416.52,248 429.83,238.7 443.14,234 456.45,226.7 469.76,226.7 483.07,217.6" fill="none" stroke="#1a1a1a" stroke-width="0.8"/>
<polyline points="416.52,248 429.83,238.5 443.14,229 456.45,216.1 469.76,208 483.07,191.2" fill="none" stroke="#1a1a1a" stroke-width="0.8" stroke-dasharray="2.2,1.3"/>
<polyline points="416.52,248 429.83,238.7 443.14,229.5 456.45,218.2 469.76,211.5 483.07,191.2" fill="none" stroke="#1a1a1a" stroke-width="0.8"/>
<polygon points="416.52,246.05 418.22,249.15 414.82,249.15" fill="#111" stroke="#111" stroke-width="0.8" stroke-linejoin="round"/>
<polygon points="429.83,236.75 431.53,239.85 428.13,239.85" fill="#111" stroke="#111" stroke-width="0.8" stroke-linejoin="round"/>
<polygon points="443.14,227.55 444.84,230.65 441.44,230.65" fill="#111" stroke="#111" stroke-width="0.8" stroke-linejoin="round"/>
<polygon points="456.45,216.25 458.15,219.35 454.75,219.35" fill="#111" stroke="#111" stroke-width="0.8" stroke-linejoin="round"/>
<polygon points="469.76,209.55 471.46,212.65 468.06,212.65" fill="#111" stroke="#111" stroke-width="0.8" stroke-linejoin="round"/>
<polygon points="483.07,189.25 484.77,192.35 481.37,192.35" fill="#111" stroke="#111" stroke-width="0.8" stroke-linejoin="round"/>
<circle cx="416.52" cy="248" r="1.45" fill="#111" stroke="#111" stroke-width="0.6"/>
<circle cx="429.83" cy="238.7" r="1.45" fill="#111" stroke="#111" stroke-width="0.6"/>
<circle cx="443.14" cy="234" r="1.45" fill="#111" stroke="#111" stroke-width="0.6"/>
<circle cx="456.45" cy="226.7" r="1.45" fill="#111" stroke="#111" stroke-width="0.6"/>
<circle cx="469.76" cy="226.7" r="1.45" fill="#111" stroke="#111" stroke-width="0.6"/>
<circle cx="483.07" cy="217.6" r="1.45" fill="#111" stroke="#111" stroke-width="0.6"/>
<polygon points="389.9,246.05 391.6,249.15 388.2,249.15" fill="#fff" stroke="#111" stroke-width="0.8" stroke-linejoin="round"/>
<polygon points="403.21,241.85 404.91,244.95 401.51,244.95" fill="#fff" stroke="#111" stroke-width="0.8" stroke-linejoin="round"/>
<polygon points="416.52,238.55 418.22,241.65 414.82,241.65" fill="#fff" stroke="#111" stroke-width="0.8" stroke-linejoin="round"/>
<polygon points="416.52,246.05 418.22,249.15 414.82,249.15" fill="#fff" stroke="#111" stroke-width="0.8" stroke-linejoin="round"/>
<polygon points="429.83,236.55 431.53,239.65 428.13,239.65" fill="#fff" stroke="#111" stroke-width="0.8" stroke-linejoin="round"/>
<polygon points="443.14,227.05 444.84,230.15 441.44,230.15" fill="#fff" stroke="#111" stroke-width="0.8" stroke-linejoin="round"/>
<polygon points="456.45,214.15 458.15,217.25 454.75,217.25" fill="#fff" stroke="#111" stroke-width="0.8" stroke-linejoin="round"/>
<polygon points="469.76,206.05 471.46,209.15 468.06,209.15" fill="#fff" stroke="#111" stroke-width="0.8" stroke-linejoin="round"/>
<polygon points="483.07,189.25 484.77,192.35 481.37,192.35" fill="#fff" stroke="#111" stroke-width="0.8" stroke-linejoin="round"/>
<circle cx="416.52" cy="248" r="1.45" fill="#fff" stroke="#111" stroke-width="0.8"/>
<circle cx="429.83" cy="237.6" r="1.45" fill="#fff" stroke="#111" stroke-width="0.8"/>
<circle cx="443.14" cy="223.7" r="1.45" fill="#fff" stroke="#111" stroke-width="0.8"/>
<circle cx="456.45" cy="212.5" r="1.45" fill="#fff" stroke="#111" stroke-width="0.8"/>
<circle cx="469.76" cy="208" r="1.45" fill="#fff" stroke="#111" stroke-width="0.8"/>
<circle cx="483.07" cy="200.3" r="1.45" fill="#fff" stroke="#111" stroke-width="0.8"/>
<line x1="417.52" y1="215" x2="417.52" y2="234.9" stroke="#333" stroke-width="1.2" />
<polyline points="414.62,230.3 417.52,234.9 420.42,230.3" fill="none" stroke="#333" stroke-width="1.1"/>
<text x="3.3" y="10.9" font-size="11" text-anchor="start" font-weight="bold" fill="#000" stroke="#000" stroke-width="0.25">(A)</text>
<text x="128" y="10.9" font-size="11" text-anchor="start" font-weight="bold" fill="#000" stroke="#000" stroke-width="0.25">(B)</text>
<text x="247.8" y="10.9" font-size="11" text-anchor="start" font-weight="bold" fill="#000" stroke="#000" stroke-width="0.25">(C)</text>
<text x="369" y="10.9" font-size="11" text-anchor="start" font-weight="bold" fill="#000" stroke="#000" stroke-width="0.25">(D)</text>
<text x="270.3" y="268.7" font-size="7.5" text-anchor="middle" font-weight="bold" fill="#000" >Time (day)</text>
<text transform="translate(7,67.7) rotate(-90)" x="0" y="0" font-size="7.5" font-weight="bold" text-anchor="middle" fill="#000">Viable cells (/mL)</text>
<text transform="translate(7,137.8) rotate(-90)" x="0" y="0" font-size="7.5" font-weight="bold" text-anchor="middle" fill="#000">Viability (%)</text>
<text transform="translate(7,235.6) rotate(-90)" x="0" y="0" font-size="7.5" font-weight="bold" text-anchor="start" letter-spacing="0" fill="#000">Titer</text>
<text transform="translate(7,212.8) rotate(-90)" x="0" y="0" font-size="7.5" font-weight="bold" text-anchor="start" letter-spacing="0.35" fill="#000">(<tspan font-weight="normal" font-size="8">μ</tspan>g/mL)</text>
</svg>
</body></html>
